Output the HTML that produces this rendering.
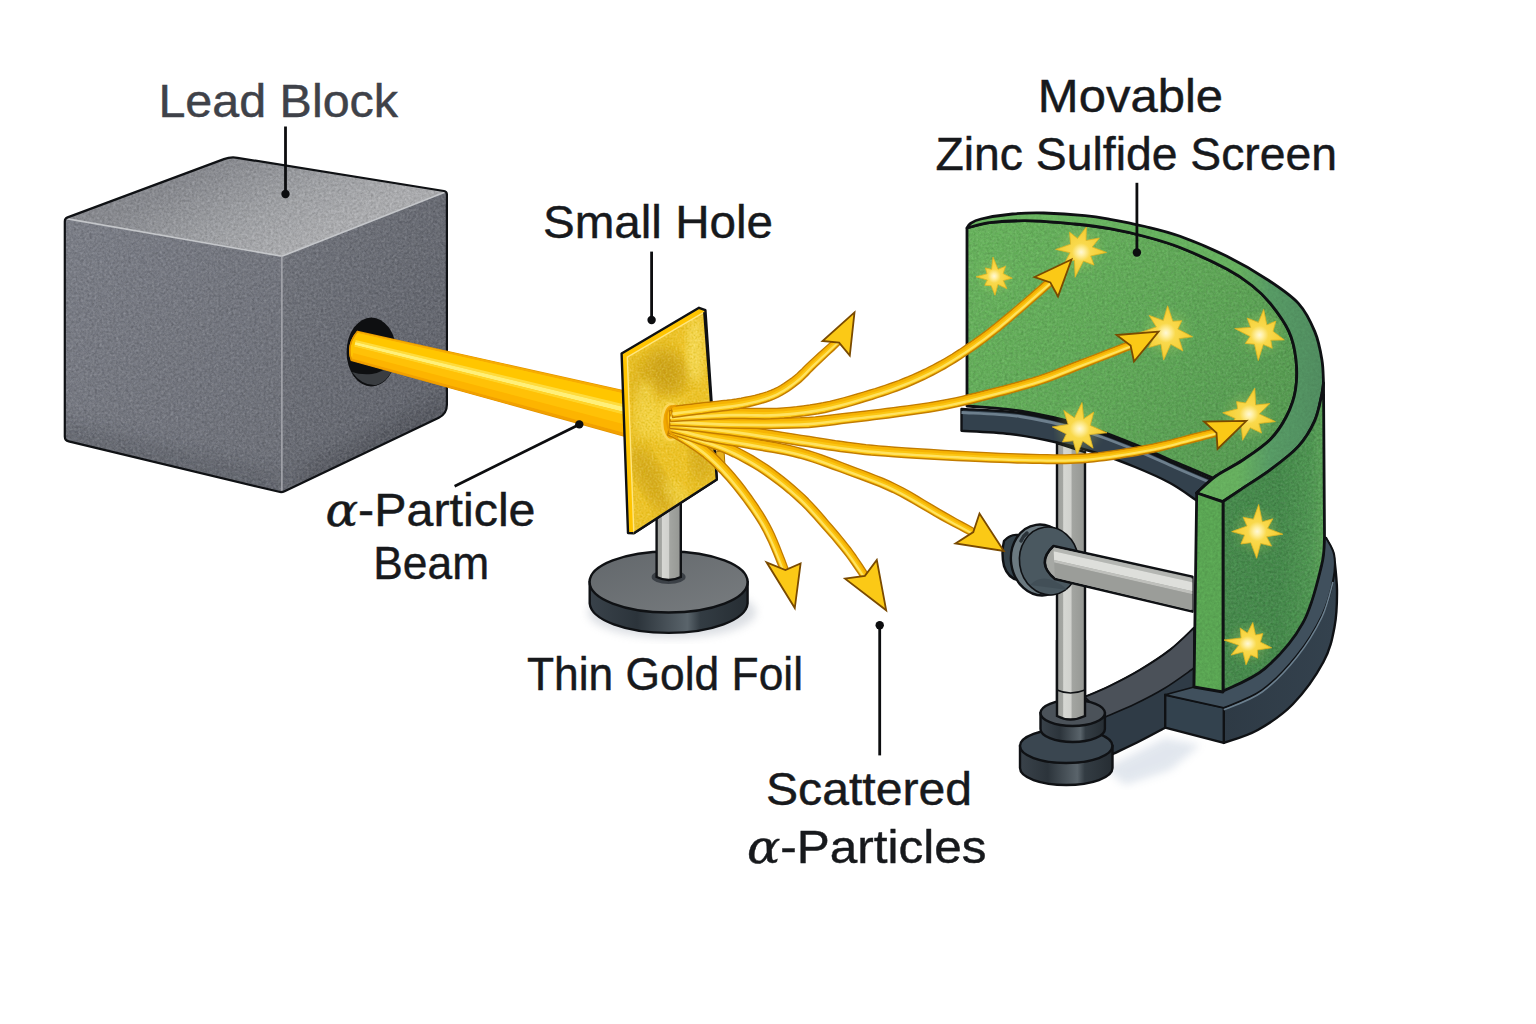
<!DOCTYPE html>
<html lang="en">
<head>
<meta charset="utf-8">
<title>Rutherford Gold Foil Experiment</title>
<style>
html,body{margin:0;padding:0;background:#fff;}
body{width:1536px;height:1024px;overflow:hidden;font-family:"Liberation Sans","DejaVu Sans",sans-serif;}
svg{display:block;}
</style>
</head>
<body>
<svg width="1536" height="1024" viewBox="0 0 1536 1024">
<defs>
<filter id="grain" x="0" y="0" width="100%" height="100%">
  <feTurbulence type="fractalNoise" baseFrequency="0.38" numOctaves="3" seed="7" result="n"/>
  <feColorMatrix in="n" type="matrix" values="0 0 0 0 0  0 0 0 0 0  0 0 0 0 0  0.9 0.9 0.9 0 -0.95" result="a"/>
  <feComposite in="a" in2="SourceGraphic" operator="in"/>
</filter>
<filter id="grainL" x="0" y="0" width="100%" height="100%">
  <feTurbulence type="fractalNoise" baseFrequency="0.42" numOctaves="3" seed="11" result="n"/>
  <feColorMatrix in="n" type="matrix" values="0 0 0 0 1  0 0 0 0 1  0 0 0 0 1  0.9 0.9 0.9 0 -1.0" result="a"/>
  <feComposite in="a" in2="SourceGraphic" operator="in"/>
</filter>
<filter id="grainC" x="0" y="0" width="100%" height="100%">
  <feTurbulence type="fractalNoise" baseFrequency="0.5" numOctaves="2" seed="3" result="n"/>
  <feColorMatrix in="n" type="matrix" values="0 0 0 0 0.62  0 0 0 0 0.42  0 0 0 0 0  1.2 1.2 1.2 0 -1.55" result="a"/>
  <feComposite in="a" in2="SourceGraphic" operator="in"/>
</filter>
<filter id="grainCL" x="0" y="0" width="100%" height="100%">
  <feTurbulence type="fractalNoise" baseFrequency="0.5" numOctaves="2" seed="5" result="n"/>
  <feColorMatrix in="n" type="matrix" values="0 0 0 0 1  0 0 0 0 0.9  0 0 0 0 0.35  1.2 1.2 1.2 0 -1.55" result="a"/>
  <feComposite in="a" in2="SourceGraphic" operator="in"/>
</filter>
<filter id="blur2"><feGaussianBlur stdDeviation="2"/></filter>
<filter id="blur4"><feGaussianBlur stdDeviation="4"/></filter>
<filter id="blur8"><feGaussianBlur stdDeviation="8"/></filter>
<linearGradient id="gTop" gradientUnits="userSpaceOnUse" x1="230" y1="157" x2="282" y2="256">
  <stop offset="0" stop-color="#8b8d93"/><stop offset="0.55" stop-color="#a4a6aa"/><stop offset="1" stop-color="#b2b3b6"/>
</linearGradient>
<linearGradient id="gLeft" x1="0" y1="0" x2="1" y2="1">
  <stop offset="0" stop-color="#7d808a"/><stop offset="1" stop-color="#6d7079"/>
</linearGradient>
<linearGradient id="gRight" x1="0" y1="0" x2="1" y2="1">
  <stop offset="0" stop-color="#73767f"/><stop offset="1" stop-color="#5e616a"/>
</linearGradient>
<linearGradient id="gBeam" gradientUnits="userSpaceOnUse" x1="490" y1="346" x2="482" y2="386">
  <stop offset="0" stop-color="#f7a800"/><stop offset="0.12" stop-color="#ffc400"/>
  <stop offset="0.3" stop-color="#ffd21f"/><stop offset="0.42" stop-color="#ffe75a"/>
  <stop offset="0.55" stop-color="#ffc708"/><stop offset="0.8" stop-color="#ffbd00"/>
  <stop offset="1" stop-color="#f2a100"/>
</linearGradient>
<linearGradient id="gFoil" x1="0" y1="0" x2="1" y2="1">
  <stop offset="0" stop-color="#f2c53a"/><stop offset="0.3" stop-color="#d9a927"/>
  <stop offset="0.55" stop-color="#f0c63e"/><stop offset="0.8" stop-color="#dcae2a"/>
  <stop offset="1" stop-color="#f1c335"/>
</linearGradient>
<linearGradient id="gRod" x1="0" y1="0" x2="1" y2="0">
  <stop offset="0" stop-color="#9c9e9a"/><stop offset="0.2" stop-color="#a4a6a2"/>
  <stop offset="0.24" stop-color="#d6d7d3"/><stop offset="0.5" stop-color="#d0d1cd"/><stop offset="0.54" stop-color="#a3a5a1"/>
  <stop offset="1" stop-color="#959793"/>
</linearGradient>
<linearGradient id="gRodH" gradientUnits="userSpaceOnUse" x1="1120" y1="560" x2="1113" y2="594">
  <stop offset="0" stop-color="#9a9c9b"/><stop offset="0.3" stop-color="#d9dad7"/>
  <stop offset="0.55" stop-color="#b9bab8"/><stop offset="1" stop-color="#8e908f"/>
</linearGradient>
<linearGradient id="gDiscTop" x1="0" y1="0" x2="1" y2="1">
  <stop offset="0" stop-color="#62676b"/><stop offset="1" stop-color="#787c7f"/>
</linearGradient>
<linearGradient id="gDiscSide" x1="0" y1="0" x2="1" y2="0">
  <stop offset="0" stop-color="#39424a"/><stop offset="0.3" stop-color="#2c343b"/>
  <stop offset="0.62" stop-color="#5a646b"/><stop offset="0.7" stop-color="#333c43"/>
  <stop offset="1" stop-color="#262d33"/>
</linearGradient>
<linearGradient id="gGreenIn" gradientUnits="userSpaceOnUse" x1="967" y1="230" x2="1300" y2="470">
  <stop offset="0" stop-color="#6aba5e"/><stop offset="0.5" stop-color="#61ae58"/><stop offset="1" stop-color="#549c50"/>
</linearGradient>
<linearGradient id="gGreenOut" gradientUnits="userSpaceOnUse" x1="1223" y1="0" x2="1326" y2="0">
  <stop offset="0" stop-color="#468f4c"/><stop offset="0.55" stop-color="#458e4b"/><stop offset="0.85" stop-color="#4f9b52"/><stop offset="1" stop-color="#5eab5a"/>
</linearGradient>
<linearGradient id="gRim" gradientUnits="userSpaceOnUse" x1="1000" y1="0" x2="1330" y2="0">
  <stop offset="0" stop-color="#6dbb64"/><stop offset="0.72" stop-color="#6ab562"/><stop offset="0.82" stop-color="#5a9f68"/><stop offset="1" stop-color="#528f62"/>
</linearGradient>
<linearGradient id="gSlate" x1="0" y1="0" x2="1" y2="0">
  <stop offset="0" stop-color="#2e3a45"/><stop offset="1" stop-color="#34424e"/>
</linearGradient>
<radialGradient id="gStar">
  <stop offset="0" stop-color="#fff8d6"/><stop offset="0.14" stop-color="#fff0a4"/>
  <stop offset="0.36" stop-color="#f9d94c"/><stop offset="1" stop-color="#f4cb2e"/>
</radialGradient>
</defs>
<rect width="1536" height="1024" fill="#ffffff"/>
<clipPath id="cCube"><path d="M64.8 221.4 Q64.8 218.4 67.6 217.4 L223.9 159.1 Q230.5 156.7 237.4 157.8 L443.9 191.0 Q446.9 191.5 446.9 194.5 L446.9 404.8 Q446.9 413.8 438.8 417.7 L284.6 491.2 Q281.9 492.5 279.0 491.8 L68.7 441.4 Q64.8 440.5 64.8 436.5 Z"/></clipPath>
<g stroke-linejoin="round">
<g clip-path="url(#cCube)">
<path d="M64.8 218.4 L230.5 156.7 L446.9 191.5 L281.9 256.3 Z" fill="url(#gTop)"/>
<path d="M64.8 218.4 L281.9 256.3 L281.9 492.5 L64.8 440.5 Z" fill="url(#gLeft)"/>
<path d="M281.9 256.3 L446.9 191.5 L446.9 413.8 L281.9 492.5 Z" fill="url(#gRight)"/>
<path d="M300.0 470.0 L447.0 395.0 L447.0 425.0 L300.0 500.0 Z" fill="#3c3f46" opacity="0.35" filter="url(#blur8)"/>
<path d="M60.0 420.0 L282.0 475.0 L282.0 500.0 L60.0 450.0 Z" fill="#4a4d55" opacity="0.3" filter="url(#blur8)"/>
<path d="M64.8 218.4 L230.5 156.7 L446.9 191.5 L446.9 413.8 L281.9 492.5 L64.8 440.5 Z" fill="#000" opacity="0.18" filter="url(#grain)"/>
<path d="M64.8 218.4 L230.5 156.7 L446.9 191.5 L446.9 413.8 L281.9 492.5 L64.8 440.5 Z" fill="#fff" opacity="0.16" filter="url(#grainL)"/>
<path d="M64.8 218.4 L281.9 256.3 L446.9 191.5" fill="none" stroke="#c9cbce" stroke-width="1.6" opacity="0.9"/>
<path d="M281.9 256.3 L281.9 492.5" fill="none" stroke="#a9abb0" stroke-width="1.6" opacity="0.9"/>
</g>
<path d="M64.8 221.4 Q64.8 218.4 67.6 217.4 L223.9 159.1 Q230.5 156.7 237.4 157.8 L443.9 191.0 Q446.9 191.5 446.9 194.5 L446.9 404.8 Q446.9 413.8 438.8 417.7 L284.6 491.2 Q281.9 492.5 279.0 491.8 L68.7 441.4 Q64.8 440.5 64.8 436.5 Z" fill="none" stroke="#0f1114" stroke-width="2.2"/>
</g>
<ellipse cx="371.4" cy="352" rx="24.8" ry="34.5" fill="#0e0f11"/>
<path d="M352 372 Q362 386 376 385 Q390 381 395 362 Q384 372 372 374 Q360 375 352 372Z" fill="#3a3d41"/>
<path d="M357.5 331.4 L626 391.2 L626 436.5 L351.5 360.5 Q346 345 357.5 331.4Z" fill="#ffc400" stroke="#e39500" stroke-width="1.4"/>
<path d="M357.5 331.4 L626.0 391.2 L626.0 393.9 L357.1 333.1 Z" fill="#f7ad00"/>
<path d="M357.1 333.1 L626.0 393.9 L626.0 404.8 L355.7 340.1 Z" fill="#ffc600"/>
<path d="M355.7 340.1 L626.0 404.8 L626.0 407.5 L355.3 341.9 Z" fill="#ffdc3c"/>
<path d="M355.3 341.9 L626.0 407.5 L626.0 412.5 L354.7 345.1 Z" fill="#fff07a"/>
<path d="M354.7 345.1 L626.0 412.5 L626.0 415.2 L354.3 346.8 Z" fill="#ffd42a"/>
<path d="M354.3 346.8 L626.0 415.2 L626.0 424.7 L353.1 352.9 Z" fill="#ffc107"/>
<path d="M353.1 352.9 L626.0 424.7 L626.0 433.3 L351.9 358.5 Z" fill="#fdb400"/>
<path d="M351.9 358.5 L626.0 433.3 L626.0 436.5 L351.5 360.5 Z" fill="#f2a000"/>
<path d="M357.5 331.4 Q346 345 351.5 360.5" fill="none" stroke="#e39500" stroke-width="1.4"/>
<ellipse cx="672" cy="612" rx="84" ry="26" fill="#9aa3b0" opacity="0.35" filter="url(#blur4)"/>
<path d="M589.7 582 L589.7 603.5 A79 30.5 0 0 0 747.6 603.5 L747.6 582 Z" fill="url(#gDiscSide)" stroke="#0f1114" stroke-width="2.4"/>
<ellipse cx="668.6" cy="582" rx="79" ry="30.5" fill="url(#gDiscTop)" stroke="#0f1114" stroke-width="2.4"/>
<ellipse cx="668.6" cy="577" rx="17" ry="7" fill="#3b4046"/>
<path d="M656.6 500 L656.6 577 Q668.6 583 680.8 577 L680.8 500 Z" fill="url(#gRod)" stroke="#0f1114" stroke-width="2.4"/>
<path d="M715 452 L724 450.5 L725 466 L716.5 469 Z" fill="#e9b21c" stroke="#a87400" stroke-width="1"/>
<path d="M621.6 353.5 L699.0 307.8 L705.4 310.2 L716.8 479.5 L633.8 533.2 L628.0 533.0 Z" fill="#ffc400" stroke="#0f1114" stroke-width="2.4" stroke-linejoin="round"/>
<path d="M627.3 357.2 L704.3 312.2 L716.8 479.5 L633.8 533.2 Z" fill="#eec126"/>
<clipPath id="cFoil"><path d="M627.3 357.2 L704.3 312.2 L716.8 479.5 L633.8 533.2 Z"/></clipPath>
<g clip-path="url(#cFoil)">
<ellipse cx="666" cy="372" rx="20" ry="24" fill="#b98c0c" opacity="0.7" filter="url(#blur8)" transform="rotate(-30 666 372)"/>
<ellipse cx="652" cy="480" rx="13" ry="40" fill="#b98c0c" opacity="0.55" filter="url(#blur8)" transform="rotate(-30 652 480)"/>
<ellipse cx="702" cy="455" rx="12" ry="30" fill="#b98c0c" opacity="0.5" filter="url(#blur8)"/>
<ellipse cx="640" cy="380" rx="8" ry="20" fill="#b98c0c" opacity="0.4" filter="url(#blur8)"/>
<ellipse cx="695" cy="350" rx="9" ry="34" fill="#fbe36a" opacity="0.7" filter="url(#blur4)"/>
<ellipse cx="645" cy="410" rx="10" ry="30" fill="#f8dc58" opacity="0.6" filter="url(#blur4)"/>
<ellipse cx="680" cy="500" rx="10" ry="26" fill="#f8dc58" opacity="0.5" filter="url(#blur4)" transform="rotate(-35 680 500)"/>
<circle cx="669" cy="421" r="22" fill="#fbdc50" opacity="0.6" filter="url(#blur4)"/>
</g>
<path d="M627.3 357.2 L704.3 312.2 L716.8 479.5 L633.8 533.2 Z" fill="#b07c00" opacity="0.55" filter="url(#grainC)"/>
<path d="M627.3 357.2 L704.3 312.2 L716.8 479.5 L633.8 533.2 Z" fill="#ffe870" opacity="0.32" filter="url(#grainCL)"/>
<path d="M633.8 533.2 L627.3 357.2 L704.3 312.2" fill="none" stroke="#ffe680" stroke-width="1.4"/>
<path d="M704.3 312.2 L716.8 479.5 L633.8 533.2" fill="none" stroke="#0f1114" stroke-width="2.4" stroke-linejoin="round"/>
<ellipse cx="671" cy="422" rx="9" ry="18" fill="#f2a900" stroke="#fbd85a" stroke-width="2.5"/>
<path d="M668 421 Q666 408 676 405.5 Q700 405 724 409 L742 437 Q700 440 676 438.5 Q668 434 668 421Z" fill="#ffbd08"/>
<path d="M961.5 409.0 C971.2 409.7 999.9 410.0 1020.0 413.0 C1040.1 416.0 1062.8 421.4 1082.0 427.0 C1101.2 432.6 1119.5 440.3 1135.0 446.5 C1150.5 452.7 1161.7 458.2 1175.0 464.0 C1188.3 469.8 1208.3 478.2 1215.0 481.0 L1196.0 500.0 C1191.7 497.2 1180.2 488.5 1170.0 483.0 C1159.8 477.5 1146.7 471.8 1135.0 467.0 C1123.3 462.2 1113.0 458.1 1100.0 454.0 C1087.0 449.9 1072.0 445.8 1057.0 442.5 C1042.0 439.2 1025.9 435.9 1010.0 434.0 C994.1 432.1 969.6 431.3 961.5 430.8 Z" fill="#33414d" stroke="#0f1114" stroke-width="2.4" stroke-linejoin="round"/>
<path d="M961.5 409.0 C971.2 409.7 999.9 410.0 1020.0 413.0 C1040.1 416.0 1062.8 421.4 1082.0 427.0 C1101.2 432.6 1119.5 440.3 1135.0 446.5 C1150.5 452.7 1161.7 458.2 1175.0 464.0 C1188.3 469.8 1208.3 478.2 1215.0 481.0" fill="none" stroke="#6d7f8d" stroke-width="2.8" transform="translate(0,3.5)"/>
<path d="M1057 443 L1057 716 Q1070 723 1085 716 L1085 452 Z" fill="url(#gRod)" stroke="#0f1114" stroke-width="2.4"/>
<path d="M1057 690 Q1070 696 1085 690" fill="none" stroke="#0f1114" stroke-width="1.5"/>
<path d="M967.0 228.0 C971.1 227.1 980.7 223.6 991.7 222.4 C1002.7 221.2 1019.1 220.5 1033.0 220.8 C1046.9 221.1 1062.2 222.7 1075.0 224.0 C1087.8 225.3 1098.3 226.5 1110.0 228.6 C1121.7 230.7 1133.3 233.3 1145.0 236.5 C1156.7 239.7 1166.3 242.1 1180.0 247.5 C1193.7 252.9 1214.9 262.7 1226.9 269.0 C1238.9 275.3 1244.8 279.8 1252.0 285.5 C1259.2 291.2 1264.1 295.7 1270.3 303.4 C1276.5 311.1 1284.7 322.2 1289.0 331.6 C1293.3 341.0 1294.9 350.0 1296.0 359.7 C1297.1 369.4 1297.0 380.6 1295.5 390.0 C1294.0 399.4 1290.9 407.8 1286.7 416.0 C1282.5 424.2 1277.7 432.0 1270.3 439.4 C1262.9 446.8 1251.2 454.4 1242.2 460.5 C1233.2 466.6 1223.6 470.6 1216.0 476.0 C1208.4 481.4 1199.9 490.2 1196.7 493.0 L1213.0 478.0 C1206.7 475.3 1188.0 467.6 1175.0 462.0 C1162.0 456.4 1150.5 450.7 1135.0 444.5 C1119.5 438.3 1101.2 430.6 1082.0 425.0 C1062.8 419.4 1039.2 414.2 1020.0 411.0 C1000.8 407.8 975.8 406.8 967.0 406.0 Z" fill="url(#gGreenIn)"/>
<path d="M967.0 228.0 C971.1 227.1 980.7 223.6 991.7 222.4 C1002.7 221.2 1019.1 220.5 1033.0 220.8 C1046.9 221.1 1062.2 222.7 1075.0 224.0 C1087.8 225.3 1098.3 226.5 1110.0 228.6 C1121.7 230.7 1133.3 233.3 1145.0 236.5 C1156.7 239.7 1166.3 242.1 1180.0 247.5 C1193.7 252.9 1214.9 262.7 1226.9 269.0 C1238.9 275.3 1244.8 279.8 1252.0 285.5 C1259.2 291.2 1264.1 295.7 1270.3 303.4 C1276.5 311.1 1284.7 322.2 1289.0 331.6 C1293.3 341.0 1294.9 350.0 1296.0 359.7 C1297.1 369.4 1297.0 380.6 1295.5 390.0 C1294.0 399.4 1290.9 407.8 1286.7 416.0 C1282.5 424.2 1277.7 432.0 1270.3 439.4 C1262.9 446.8 1251.2 454.4 1242.2 460.5 C1233.2 466.6 1223.6 470.6 1216.0 476.0 C1208.4 481.4 1199.9 490.2 1196.7 493.0 L1213.0 478.0 C1206.7 475.3 1188.0 467.6 1175.0 462.0 C1162.0 456.4 1150.5 450.7 1135.0 444.5 C1119.5 438.3 1101.2 430.6 1082.0 425.0 C1062.8 419.4 1039.2 414.2 1020.0 411.0 C1000.8 407.8 975.8 406.8 967.0 406.0 Z" fill="#0d3a12" opacity="0.16" filter="url(#grain)"/>
<path d="M967.0 228.0 C971.1 227.1 980.7 223.6 991.7 222.4 C1002.7 221.2 1019.1 220.5 1033.0 220.8 C1046.9 221.1 1062.2 222.7 1075.0 224.0 C1087.8 225.3 1098.3 226.5 1110.0 228.6 C1121.7 230.7 1133.3 233.3 1145.0 236.5 C1156.7 239.7 1166.3 242.1 1180.0 247.5 C1193.7 252.9 1214.9 262.7 1226.9 269.0 C1238.9 275.3 1244.8 279.8 1252.0 285.5 C1259.2 291.2 1264.1 295.7 1270.3 303.4 C1276.5 311.1 1284.7 322.2 1289.0 331.6 C1293.3 341.0 1294.9 350.0 1296.0 359.7 C1297.1 369.4 1297.0 380.6 1295.5 390.0 C1294.0 399.4 1290.9 407.8 1286.7 416.0 C1282.5 424.2 1277.7 432.0 1270.3 439.4 C1262.9 446.8 1251.2 454.4 1242.2 460.5 C1233.2 466.6 1223.6 470.6 1216.0 476.0 C1208.4 481.4 1199.9 490.2 1196.7 493.0 L1213.0 478.0 C1206.7 475.3 1188.0 467.6 1175.0 462.0 C1162.0 456.4 1150.5 450.7 1135.0 444.5 C1119.5 438.3 1101.2 430.6 1082.0 425.0 C1062.8 419.4 1039.2 414.2 1020.0 411.0 C1000.8 407.8 975.8 406.8 967.0 406.0 Z" fill="#b9e6a0" opacity="0.10" filter="url(#grainL)"/>
<path d="M967.0 228.0 C971.1 227.1 980.7 223.6 991.7 222.4 C1002.7 221.2 1019.1 220.5 1033.0 220.8 C1046.9 221.1 1062.2 222.7 1075.0 224.0 C1087.8 225.3 1098.3 226.5 1110.0 228.6 C1121.7 230.7 1133.3 233.3 1145.0 236.5 C1156.7 239.7 1166.3 242.1 1180.0 247.5 C1193.7 252.9 1214.9 262.7 1226.9 269.0 C1238.9 275.3 1244.8 279.8 1252.0 285.5 C1259.2 291.2 1264.1 295.7 1270.3 303.4 C1276.5 311.1 1284.7 322.2 1289.0 331.6 C1293.3 341.0 1294.9 350.0 1296.0 359.7 C1297.1 369.4 1297.0 380.6 1295.5 390.0 C1294.0 399.4 1290.9 407.8 1286.7 416.0 C1282.5 424.2 1277.7 432.0 1270.3 439.4 C1262.9 446.8 1251.2 454.4 1242.2 460.5 C1233.2 466.6 1223.6 470.6 1216.0 476.0 C1208.4 481.4 1199.9 490.2 1196.7 493.0 L1213.0 478.0 C1206.7 475.3 1188.0 467.6 1175.0 462.0 C1162.0 456.4 1150.5 450.7 1135.0 444.5 C1119.5 438.3 1101.2 430.6 1082.0 425.0 C1062.8 419.4 1039.2 414.2 1020.0 411.0 C1000.8 407.8 975.8 406.8 967.0 406.0 Z" fill="none" stroke="#0f1114" stroke-width="2.8" stroke-linejoin="round"/>
<path d="M967.0 228.0 C967.6 227.2 968.2 225.0 970.5 223.5 C972.8 222.0 974.0 220.6 981.0 219.0 C988.0 217.4 1002.0 215.0 1012.5 214.0 C1023.0 213.0 1031.7 212.7 1043.8 213.0 C1055.9 213.3 1074.0 214.5 1085.0 215.6 C1096.0 216.7 1100.0 217.5 1110.0 219.3 C1120.0 221.1 1133.3 223.7 1145.0 226.5 C1156.7 229.3 1166.3 231.3 1180.0 236.3 C1193.7 241.3 1212.2 249.0 1226.9 256.3 C1241.6 263.6 1256.1 272.1 1268.0 280.0 C1279.9 287.9 1290.6 294.8 1298.4 303.4 C1306.2 312.0 1310.9 322.2 1314.8 331.6 C1318.7 341.0 1320.5 351.1 1321.9 359.7 C1323.4 368.3 1323.2 379.1 1323.5 383.0 L1321.9 394.0 C1320.7 398.4 1318.7 411.9 1314.8 420.6 C1310.9 429.3 1305.8 438.2 1298.4 446.4 C1291.0 454.6 1279.7 462.8 1270.3 469.8 C1260.9 476.8 1250.1 483.3 1242.2 488.6 C1234.3 493.9 1226.2 499.4 1223.0 501.5 L1196.7 493.0 C1199.9 490.2 1208.4 481.4 1216.0 476.0 C1223.6 470.6 1233.2 466.6 1242.2 460.5 C1251.2 454.4 1262.9 446.8 1270.3 439.4 C1277.7 432.0 1282.5 424.2 1286.7 416.0 C1290.9 407.8 1294.0 399.4 1295.5 390.0 C1297.0 380.6 1297.1 369.4 1296.0 359.7 C1294.9 350.0 1293.3 341.0 1289.0 331.6 C1284.7 322.2 1276.5 311.1 1270.3 303.4 C1264.1 295.7 1259.2 291.2 1252.0 285.5 C1244.8 279.8 1238.9 275.3 1226.9 269.0 C1214.9 262.7 1193.7 252.9 1180.0 247.5 C1166.3 242.1 1156.7 239.7 1145.0 236.5 C1133.3 233.3 1121.7 230.7 1110.0 228.6 C1098.3 226.5 1087.8 225.3 1075.0 224.0 C1062.2 222.7 1046.9 221.1 1033.0 220.8 C1019.1 220.5 1002.7 221.2 991.7 222.4 C980.7 223.6 971.1 227.1 967.0 228.0 Z" fill="url(#gRim)" stroke="#0f1114" stroke-width="2.8" stroke-linejoin="round"/>
<path d="M967.0 228.0 C967.6 227.2 968.2 225.0 970.5 223.5 C972.8 222.0 974.0 220.6 981.0 219.0 C988.0 217.4 1002.0 215.0 1012.5 214.0 C1023.0 213.0 1031.7 212.7 1043.8 213.0 C1055.9 213.3 1074.0 214.5 1085.0 215.6 C1096.0 216.7 1100.0 217.5 1110.0 219.3 C1120.0 221.1 1133.3 223.7 1145.0 226.5 C1156.7 229.3 1166.3 231.3 1180.0 236.3 C1193.7 241.3 1212.2 249.0 1226.9 256.3 C1241.6 263.6 1256.1 272.1 1268.0 280.0 C1279.9 287.9 1290.6 294.8 1298.4 303.4 C1306.2 312.0 1310.9 322.2 1314.8 331.6 C1318.7 341.0 1320.5 351.1 1321.9 359.7 C1323.4 368.3 1323.2 379.1 1323.5 383.0 L1321.9 394.0 C1320.7 398.4 1318.7 411.9 1314.8 420.6 C1310.9 429.3 1305.8 438.2 1298.4 446.4 C1291.0 454.6 1279.7 462.8 1270.3 469.8 C1260.9 476.8 1250.1 483.3 1242.2 488.6 C1234.3 493.9 1226.2 499.4 1223.0 501.5 L1196.7 493.0 C1199.9 490.2 1208.4 481.4 1216.0 476.0 C1223.6 470.6 1233.2 466.6 1242.2 460.5 C1251.2 454.4 1262.9 446.8 1270.3 439.4 C1277.7 432.0 1282.5 424.2 1286.7 416.0 C1290.9 407.8 1294.0 399.4 1295.5 390.0 C1297.0 380.6 1297.1 369.4 1296.0 359.7 C1294.9 350.0 1293.3 341.0 1289.0 331.6 C1284.7 322.2 1276.5 311.1 1270.3 303.4 C1264.1 295.7 1259.2 291.2 1252.0 285.5 C1244.8 279.8 1238.9 275.3 1226.9 269.0 C1214.9 262.7 1193.7 252.9 1180.0 247.5 C1166.3 242.1 1156.7 239.7 1145.0 236.5 C1133.3 233.3 1121.7 230.7 1110.0 228.6 C1098.3 226.5 1087.8 225.3 1075.0 224.0 C1062.2 222.7 1046.9 221.1 1033.0 220.8 C1019.1 220.5 1002.7 221.2 991.7 222.4 C980.7 223.6 971.1 227.1 967.0 228.0 Z" fill="#0d3a12" opacity="0.08" filter="url(#grain)"/>
<g><circle cx="994.8" cy="277.0" r="14.2" fill="#d9e86a" opacity="0.18" filter="url(#blur4)"/><path d="M993.0 257.0 L998.0 269.3 L1005.6 266.2 L1003.1 273.6 L1012.3 278.2 L1003.3 280.5 L1006.9 288.7 L997.9 284.4 L995.0 295.3 L991.2 285.7 L984.7 285.3 L987.4 280.1 L976.0 276.8 L987.1 273.8 L985.4 267.9 L991.6 269.3 Z" fill="url(#gStar)" stroke="#e0b422" stroke-width="0.8" stroke-linejoin="round"/></g>
<g><circle cx="1080.5" cy="250.0" r="19.1" fill="#d9e86a" opacity="0.18" filter="url(#blur4)"/><path d="M1086.4 227.0 L1086.0 240.6 L1099.4 238.0 L1092.2 247.0 L1106.6 252.4 L1090.7 256.0 L1094.0 265.1 L1083.4 261.1 L1075.1 277.3 L1074.5 260.2 L1065.3 261.8 L1070.1 252.7 L1055.6 249.4 L1070.6 244.2 L1069.5 232.1 L1077.5 238.5 Z" fill="url(#gStar)" stroke="#e0b422" stroke-width="0.8" stroke-linejoin="round"/></g>
<g><circle cx="1167.0" cy="332.4" r="20.2" fill="#d9e86a" opacity="0.18" filter="url(#blur4)"/><path d="M1167.6 305.8 L1172.8 321.2 L1181.8 320.7 L1177.8 329.0 L1192.6 336.8 L1179.0 338.6 L1182.9 351.0 L1170.7 344.2 L1163.6 360.1 L1160.9 344.1 L1148.7 347.6 L1154.8 336.2 L1139.3 332.9 L1156.4 326.9 L1149.1 315.4 L1163.3 320.6 Z" fill="url(#gStar)" stroke="#e0b422" stroke-width="0.8" stroke-linejoin="round"/></g>
<g><circle cx="1261.0" cy="334.0" r="18.8" fill="#d9e86a" opacity="0.18" filter="url(#blur4)"/><path d="M1263.7 309.4 L1266.8 324.9 L1275.9 321.1 L1273.0 331.3 L1284.3 339.9 L1270.8 340.2 L1272.2 348.3 L1263.3 344.5 L1258.2 360.6 L1254.5 344.2 L1245.3 343.4 L1250.1 336.4 L1234.7 328.5 L1250.7 327.4 L1247.2 318.0 L1258.4 322.4 Z" fill="url(#gStar)" stroke="#e0b422" stroke-width="0.8" stroke-linejoin="round"/></g>
<g><circle cx="1248.0" cy="416.0" r="20.2" fill="#d9e86a" opacity="0.18" filter="url(#blur4)"/><path d="M1254.8 388.1 L1255.6 405.0 L1269.8 403.6 L1259.2 413.9 L1275.4 421.6 L1258.9 423.5 L1261.5 433.1 L1250.2 427.7 L1242.6 440.3 L1241.3 425.7 L1227.8 430.7 L1235.2 418.4 L1222.7 412.8 L1237.6 408.8 L1236.6 401.6 L1245.6 403.0 Z" fill="url(#gStar)" stroke="#e0b422" stroke-width="0.8" stroke-linejoin="round"/></g>
<g><circle cx="1078.6" cy="429.5" r="20.2" fill="#d9e86a" opacity="0.18" filter="url(#blur4)"/><path d="M1082.0 402.5 L1083.7 418.8 L1093.8 412.0 L1090.2 425.4 L1107.0 432.8 L1089.4 434.6 L1093.1 448.2 L1082.7 441.0 L1077.0 455.2 L1073.2 440.8 L1062.5 441.9 L1066.3 433.9 L1052.3 426.9 L1068.2 424.5 L1063.8 410.4 L1074.5 417.9 Z" fill="url(#gStar)" stroke="#e0b422" stroke-width="0.8" stroke-linejoin="round"/></g>
<path d="M1105 768 L1165 738 L1200 745 L1170 770 L1125 785 Z" fill="#9fb0c8" opacity="0.3" filter="url(#blur4)"/>
<path d="M1194.0 628.0 C1190.0 631.7 1179.0 643.0 1170.0 650.0 C1161.0 657.0 1150.0 664.0 1140.0 670.0 C1130.0 676.0 1119.2 681.5 1110.0 686.0 C1100.8 690.5 1089.2 695.2 1085.0 697.0 L1085 730 L1113.0 754.0 C1117.5 751.8 1131.3 745.4 1140.0 741.0 C1148.7 736.6 1161.0 729.9 1165.2 727.7 L1194 690 Z" fill="#2f3b46" stroke="#0f1114" stroke-width="2.4" stroke-linejoin="round"/>
<path d="M1194.0 628.0 C1190.0 631.7 1179.0 643.0 1170.0 650.0 C1161.0 657.0 1150.0 664.0 1140.0 670.0 C1130.0 676.0 1119.2 681.5 1110.0 686.0 C1100.8 690.5 1089.2 695.2 1085.0 697.0 L1105.0 717.0 C1110.0 714.8 1125.0 708.8 1135.0 704.0 C1145.0 699.2 1155.2 694.0 1165.0 688.0 C1174.8 682.0 1189.2 671.3 1194.0 668.0 Z" fill="#4b5159" stroke="#0f1114" stroke-width="1.6" stroke-linejoin="round"/>
<path d="M1020 746 L1020 768 A46.2 17 0 0 0 1112.5 768 L1112.5 746 Z" fill="url(#gDiscSide)" stroke="#0f1114" stroke-width="2.4"/>
<ellipse cx="1066.2" cy="746" rx="46.2" ry="17" fill="#3a4650" stroke="#0f1114" stroke-width="2.4"/>
<path d="M1040.5 713 L1040.5 729 A32.2 13 0 0 0 1104.9 729 L1104.9 713 Z" fill="url(#gDiscSide)" stroke="#0f1114" stroke-width="2.4"/>
<ellipse cx="1072.7" cy="713" rx="32.2" ry="13" fill="#4b5259" stroke="#0f1114" stroke-width="2.4"/>
<path d="M1057 640 L1057 716 Q1070 723 1085 716 L1085 640 Z" fill="url(#gRod)"/>
<path d="M1057 640 L1057 716 Q1070 723 1085 716 L1085 640" fill="none" stroke="#0f1114" stroke-width="2.4"/>
<path d="M1057 690 Q1070 696 1085 690" fill="none" stroke="#0f1114" stroke-width="1.5"/>
<path d="M1223.8 707.7 C1230.2 704.8 1249.8 698.8 1262.0 690.0 C1274.2 681.2 1287.0 667.5 1297.0 655.0 C1307.0 642.5 1316.0 627.5 1322.0 615.0 C1328.0 602.5 1331.0 590.0 1333.0 580.0 C1335.0 570.0 1335.2 562.0 1334.0 555.0 C1332.8 548.0 1327.3 540.8 1326.0 538.0 L1334.0 555.0 C1334.5 560.8 1336.9 578.0 1337.0 590.0 C1337.1 602.0 1336.8 615.0 1334.5 627.0 C1332.2 639.0 1330.3 649.2 1323.4 662.0 C1316.5 674.8 1303.9 692.7 1293.0 704.0 C1282.1 715.3 1269.3 723.5 1257.8 730.0 C1246.3 736.5 1229.5 740.8 1223.8 742.9 Z" fill="url(#gSlate)" stroke="#0f1114" stroke-width="2.4" stroke-linejoin="round"/>
<path d="M1165.2 694.8 L1223.8 707.7 L1223.8 742.9 L1165.2 727.7 Z" fill="#33424e" stroke="#0f1114" stroke-width="2.4" stroke-linejoin="round"/>
<path d="M1165.2 694.8 L1194 687 L1223 692 L1223.0 691.0 C1230.0 687.3 1251.5 680.0 1264.8 668.6 C1278.1 657.2 1293.5 640.0 1302.9 622.9 C1312.4 605.8 1317.9 580.0 1321.5 565.7 C1325.1 551.4 1324.0 541.8 1324.5 537.0 L1326.0 538.0 C1327.3 540.8 1332.8 548.0 1334.0 555.0 C1335.2 562.0 1335.0 570.0 1333.0 580.0 C1331.0 590.0 1328.0 602.5 1322.0 615.0 C1316.0 627.5 1307.0 642.5 1297.0 655.0 C1287.0 667.5 1274.2 681.2 1262.0 690.0 C1249.8 698.8 1230.2 704.8 1223.8 707.7 Z" fill="#40505d" stroke="#0f1114" stroke-width="1.6" stroke-linejoin="round"/>
<path d="M1223.8 707.7 C1230.2 704.8 1249.8 698.8 1262.0 690.0 C1274.2 681.2 1287.0 667.5 1297.0 655.0 C1307.0 642.5 1316.0 627.5 1322.0 615.0 C1328.0 602.5 1331.2 585.8 1333.0 580.0" fill="none" stroke="#6b7f8e" stroke-width="1.6" transform="translate(0,2)"/>
<path d="M1223 501.5 L1223.0 501.5 C1226.2 499.4 1234.3 493.9 1242.2 488.6 C1250.1 483.3 1260.9 476.8 1270.3 469.8 C1279.7 462.8 1291.0 454.6 1298.4 446.4 C1305.8 438.2 1310.9 429.3 1314.8 420.6 C1318.7 411.9 1320.5 400.3 1321.9 394.0 C1323.4 387.7 1323.2 384.8 1323.5 383.0 L1324.5 537 L1324.5 537.0 C1324.0 541.8 1325.1 551.4 1321.5 565.7 C1317.9 580.0 1312.4 605.8 1302.9 622.9 C1293.5 640.0 1278.1 657.2 1264.8 668.6 C1251.5 680.0 1230.0 687.3 1223.0 691.0 Z" fill="url(#gGreenOut)"/>
<path d="M1223 501.5 L1223.0 501.5 C1226.2 499.4 1234.3 493.9 1242.2 488.6 C1250.1 483.3 1260.9 476.8 1270.3 469.8 C1279.7 462.8 1291.0 454.6 1298.4 446.4 C1305.8 438.2 1310.9 429.3 1314.8 420.6 C1318.7 411.9 1320.5 400.3 1321.9 394.0 C1323.4 387.7 1323.2 384.8 1323.5 383.0 L1324.5 537 L1324.5 537.0 C1324.0 541.8 1325.1 551.4 1321.5 565.7 C1317.9 580.0 1312.4 605.8 1302.9 622.9 C1293.5 640.0 1278.1 657.2 1264.8 668.6 C1251.5 680.0 1230.0 687.3 1223.0 691.0 Z" fill="#0d3a12" opacity="0.18" filter="url(#grain)"/>
<path d="M1223 501.5 L1223.0 501.5 C1226.2 499.4 1234.3 493.9 1242.2 488.6 C1250.1 483.3 1260.9 476.8 1270.3 469.8 C1279.7 462.8 1291.0 454.6 1298.4 446.4 C1305.8 438.2 1310.9 429.3 1314.8 420.6 C1318.7 411.9 1320.5 400.3 1321.9 394.0 C1323.4 387.7 1323.2 384.8 1323.5 383.0 L1324.5 537 L1324.5 537.0 C1324.0 541.8 1325.1 551.4 1321.5 565.7 C1317.9 580.0 1312.4 605.8 1302.9 622.9 C1293.5 640.0 1278.1 657.2 1264.8 668.6 C1251.5 680.0 1230.0 687.3 1223.0 691.0 Z" fill="#b9e6a0" opacity="0.10" filter="url(#grainL)"/>
<path d="M1223 501.5 L1223.0 501.5 C1226.2 499.4 1234.3 493.9 1242.2 488.6 C1250.1 483.3 1260.9 476.8 1270.3 469.8 C1279.7 462.8 1291.0 454.6 1298.4 446.4 C1305.8 438.2 1310.9 429.3 1314.8 420.6 C1318.7 411.9 1320.5 400.3 1321.9 394.0 C1323.4 387.7 1323.2 384.8 1323.5 383.0 L1324.5 537 L1324.5 537.0 C1324.0 541.8 1325.1 551.4 1321.5 565.7 C1317.9 580.0 1312.4 605.8 1302.9 622.9 C1293.5 640.0 1278.1 657.2 1264.8 668.6 C1251.5 680.0 1230.0 687.3 1223.0 691.0 Z" fill="none" stroke="#0f1114" stroke-width="2.8" stroke-linejoin="round"/>
<path d="M1196.7 493.0 L1223.0 502.0 L1223.0 692.0 L1194.0 687.0 Z" fill="#5fae58"/>
<path d="M1196.7 493.0 L1223.0 502.0 L1223.0 692.0 L1194.0 687.0 Z" fill="#0d3a12" opacity="0.12" filter="url(#grain)"/>
<path d="M1196.7 493.0 L1223.0 502.0 L1223.0 692.0 L1194.0 687.0 Z" fill="none" stroke="#0f1114" stroke-width="2.8" stroke-linejoin="round"/>
<g><circle cx="1257.0" cy="531.4" r="19.5" fill="#d9e86a" opacity="0.18" filter="url(#blur4)"/><path d="M1258.7 504.5 L1262.3 521.7 L1272.8 518.8 L1267.6 528.3 L1282.8 534.2 L1266.7 536.7 L1271.5 546.1 L1260.6 543.5 L1256.7 558.3 L1250.8 542.7 L1240.9 544.0 L1244.6 535.1 L1231.7 531.6 L1247.1 526.0 L1243.1 517.2 L1253.4 519.3 Z" fill="url(#gStar)" stroke="#e0b422" stroke-width="0.8" stroke-linejoin="round"/></g>
<g><circle cx="1249.0" cy="643.8" r="17.2" fill="#d9e86a" opacity="0.18" filter="url(#blur4)"/><path d="M1252.8 622.5 L1255.5 635.0 L1262.8 633.5 L1260.4 642.1 L1271.7 647.8 L1257.4 650.0 L1257.7 658.2 L1250.7 654.9 L1246.0 664.8 L1243.0 652.0 L1231.0 655.1 L1238.8 645.3 L1224.0 640.0 L1241.1 638.0 L1240.2 628.1 L1247.4 633.0 Z" fill="url(#gStar)" stroke="#e0b422" stroke-width="0.8" stroke-linejoin="round"/></g>
<path d="M1004 541 Q1010 534 1018 535 L1018 580 Q1008 578 1004 566 Q1001 553 1004 541 Z" fill="#34424b" stroke="#0f1114" stroke-width="2.4" stroke-linejoin="round"/>
<ellipse cx="1041" cy="560" rx="30" ry="35.5" fill="#6b7980" stroke="#0f1114" stroke-width="2.4" transform="rotate(-8 1041 560)"/>
<ellipse cx="1049" cy="561" rx="29.5" ry="34" fill="#4a5860" stroke="#0f1114" stroke-width="1.6" transform="rotate(-8 1049 561)"/>
<path d="M1021 541 Q1023 536 1027 533" fill="none" stroke="#2a3238" stroke-width="3.5" stroke-linecap="round"/>
<path d="M1030 585 Q1045 570 1068 590" fill="#3f4c54" opacity="0.7"/>
<path d="M1053.5 546 L1192.5 576.6 L1192.5 611.7 L1055 579 Q1035 563 1053.5 546 Z" fill="#a6a8a4" stroke="#0f1114" stroke-width="2.4" stroke-linejoin="round"/>
<path d="M1053.6 547.6 L1192.5 578.4 L1192.5 582.2 L1053.7 551.3 Z" fill="#b4b6b2"/>
<path d="M1053.7 551.3 L1192.5 582.2 L1192.5 591.3 L1054.1 559.9 Z" fill="#dedfdb"/>
<path d="M1054.1 559.9 L1192.5 591.3 L1192.5 594.2 L1054.2 562.5 Z" fill="#bfc0bc"/>
<path d="M1054.2 562.5 L1192.5 594.2 L1192.5 609.9 L1054.9 577.4 Z" fill="#9b9d99"/>
<path d="M1053.5 546 Q1036 563 1055 579" fill="none" stroke="#0f1114" stroke-width="2"/>
<path d="M667.6 435.0 L668.8 435.5 L670.3 436.2 L672.0 436.9 L673.8 437.8 L675.9 438.8 L678.1 440.0 L680.6 441.5 L683.4 443.2 L686.5 445.1 L689.9 447.3 L693.3 449.6 L696.8 452.0 L700.3 454.6 L703.6 457.2 L706.9 460.0 L710.2 462.9 L713.5 466.0 L716.7 469.3 L720.1 472.6 L723.4 476.2 L726.7 479.8 L730.1 483.7 L733.5 487.9 L737.0 492.3 L740.5 496.7 L743.8 501.1 L747.0 505.5 L750.0 509.7 L752.7 513.7 L755.2 517.4 L757.6 521.0 L759.8 524.6 L761.9 528.4 L764.1 532.5 L766.4 537.1 L769.0 542.5 L771.7 548.8 L774.6 555.6 L777.3 562.4 L779.8 568.7 L781.9 573.9 L783.5 577.8 L790.4 575.0 L789.0 571.2 L787.0 565.9 L784.6 559.6 L781.9 552.7 L779.2 545.7 L776.5 539.2 L774.0 533.5 L771.6 528.7 L769.4 524.4 L767.2 520.3 L764.9 516.5 L762.6 512.7 L760.1 508.8 L757.4 504.7 L754.4 500.3 L751.2 495.8 L747.8 491.2 L744.4 486.5 L740.9 482.0 L737.4 477.7 L733.9 473.6 L730.6 469.7 L727.2 465.9 L723.8 462.4 L720.4 458.9 L717.0 455.6 L713.6 452.4 L710.2 449.4 L706.6 446.5 L703.0 443.6 L699.3 441.0 L695.7 438.5 L692.2 436.2 L689.1 434.2 L686.2 432.3 L683.5 430.7 L681.0 429.3 L678.7 428.0 L676.6 427.0 L674.8 426.2 L673.4 425.6 L672.4 425.0 Z" fill="#fcc612" stroke="#c27c00" stroke-width="1.5" stroke-linejoin="round"/><path d="M668.6 433.0 L669.7 433.5 L671.2 434.2 L672.9 434.9 L674.8 435.8 L676.9 436.9 L679.2 438.2 L681.7 439.6 L684.5 441.4 L687.7 443.4 L691.0 445.5 L694.5 447.9 L698.1 450.3 L701.6 452.9 L704.9 455.6 L708.2 458.5 L711.5 461.5 L714.8 464.6 L718.2 467.9 L721.5 471.3 L724.8 474.9 L728.1 478.6 L731.5 482.5 L735.0 486.7 L738.5 491.1 L742.0 495.6 L745.3 500.1 L748.5 504.5 L751.5 508.7 L754.2 512.7 L756.7 516.4 L759.0 520.1 L761.2 523.8 L763.4 527.6 L765.6 531.8 L767.9 536.4 L770.5 541.8 L773.2 548.2 L776.0 555.0 L778.8 561.8 L781.2 568.1 L783.3 573.4 L784.9 577.2 L786.7 576.5 L785.2 572.7 L783.1 567.4 L780.6 561.1 L777.9 554.3 L775.2 547.4 L772.4 541.0 L769.9 535.4 L767.6 530.8 L765.4 526.6 L763.2 522.6 L760.9 518.9 L758.6 515.2 L756.1 511.4 L753.4 507.4 L750.4 503.1 L747.2 498.7 L743.9 494.1 L740.4 489.6 L736.9 485.2 L733.4 480.9 L730.0 477.0 L726.7 473.2 L723.3 469.6 L720.0 466.1 L716.7 462.8 L713.3 459.6 L710.0 456.5 L706.6 453.6 L703.2 450.8 L699.7 448.2 L696.1 445.6 L692.5 443.2 L689.2 441.0 L686.0 439.0 L683.2 437.3 L680.6 435.7 L678.2 434.4 L676.1 433.3 L674.1 432.4 L672.4 431.6 L670.9 430.9 L669.8 430.4 Z" fill="#ffe56a" opacity="0.9"/><path d="M670.8 428.3 L671.9 428.8 L673.4 429.4 L675.1 430.2 L677.1 431.2 L679.3 432.4 L681.8 433.7 L684.4 435.3 L687.2 437.1 L690.4 439.1 L693.8 441.4 L697.3 443.8 L701.0 446.4 L704.6 449.1 L708.0 451.9 L711.4 454.9 L714.8 458.0 L718.2 461.2 L721.5 464.6 L724.9 468.1 L728.2 471.8 L731.6 475.6 L735.0 479.6 L738.5 483.9 L742.0 488.4 L745.4 493.0 L748.8 497.5 L752.0 502.0 L755.0 506.3 L757.7 510.4 L760.2 514.2 L762.5 517.9 L764.8 521.7 L767.0 525.7 L769.2 530.0 L771.5 534.7 L774.0 540.3 L776.8 546.8 L779.5 553.6 L782.2 560.5 L784.6 566.8 L786.7 572.1 L788.2 575.9 L789.9 575.2 L788.4 571.4 L786.4 566.1 L784.0 559.8 L781.4 552.9 L778.6 546.0 L775.9 539.4 L773.4 533.8 L771.1 529.0 L768.8 524.7 L766.6 520.7 L764.4 516.8 L762.0 513.0 L759.5 509.2 L756.8 505.1 L753.8 500.7 L750.6 496.2 L747.3 491.6 L743.8 487.0 L740.3 482.5 L736.8 478.1 L733.4 474.0 L730.0 470.2 L726.6 466.4 L723.3 462.9 L719.9 459.4 L716.5 456.2 L713.1 453.0 L709.7 450.0 L706.2 447.1 L702.5 444.3 L698.8 441.6 L695.2 439.2 L691.8 436.9 L688.7 434.9 L685.8 433.0 L683.1 431.4 L680.6 430.0 L678.3 428.8 L676.2 427.8 L674.5 427.0 L673.1 426.3 L672.0 425.8 Z" fill="#f4ae00" opacity="0.8"/><path d="M794.8 608.0 L800.6 563.4 L785.4 570.1 L766.6 562.3 Z" fill="#fbc916" stroke="#7a4a00" stroke-width="1.8" stroke-linejoin="miter"/>
<path d="M668.2 433.2 L670.3 433.9 L673.2 434.9 L676.6 436.1 L680.4 437.4 L684.6 438.9 L688.9 440.4 L693.2 441.9 L697.8 443.5 L702.7 445.1 L707.7 446.7 L712.9 448.5 L718.1 450.3 L723.2 452.3 L728.2 454.4 L733.1 456.7 L738.1 459.2 L743.0 461.8 L748.0 464.5 L752.9 467.4 L757.9 470.4 L762.8 473.7 L767.8 477.1 L772.9 480.8 L778.0 484.7 L783.1 488.7 L788.1 492.8 L792.9 497.0 L797.5 501.1 L801.9 505.2 L806.2 509.5 L810.3 513.9 L814.3 518.3 L818.2 522.7 L821.9 527.0 L825.5 531.1 L829.0 534.9 L832.2 538.6 L835.2 542.2 L838.1 545.7 L841.0 549.2 L843.8 552.7 L846.6 556.4 L849.5 560.4 L852.6 564.8 L855.7 569.3 L858.7 573.7 L861.4 577.8 L863.7 581.2 L865.4 583.7 L871.6 579.6 L870.0 577.0 L867.8 573.6 L865.1 569.5 L862.2 565.0 L859.1 560.4 L856.0 555.8 L853.0 551.6 L850.2 547.8 L847.3 544.1 L844.4 540.5 L841.5 536.9 L838.5 533.3 L835.3 529.5 L831.9 525.5 L828.3 521.4 L824.6 517.1 L820.7 512.6 L816.7 508.0 L812.5 503.4 L808.2 498.9 L803.7 494.5 L799.0 490.2 L794.0 485.9 L789.0 481.6 L783.8 477.4 L778.6 473.3 L773.4 469.4 L768.2 465.7 L763.1 462.3 L758.0 459.1 L752.9 456.0 L747.8 453.1 L742.7 450.3 L737.5 447.7 L732.4 445.2 L727.1 442.8 L721.7 440.7 L716.4 438.7 L711.1 436.8 L706.0 435.1 L701.2 433.5 L696.8 431.9 L692.5 430.3 L688.2 428.7 L684.1 427.2 L680.2 425.9 L676.8 424.6 L674.0 423.6 L671.8 422.8 Z" fill="#fcc612" stroke="#c27c00" stroke-width="1.5" stroke-linejoin="round"/><path d="M668.9 431.1 L671.1 431.9 L673.9 432.9 L677.3 434.1 L681.2 435.4 L685.3 436.8 L689.6 438.4 L693.9 439.9 L698.5 441.5 L703.3 443.1 L708.4 444.7 L713.6 446.5 L718.8 448.4 L724.0 450.4 L729.0 452.6 L734.0 454.9 L739.0 457.4 L744.0 460.0 L749.0 462.8 L753.9 465.7 L758.9 468.8 L763.9 472.1 L768.9 475.6 L774.0 479.3 L779.2 483.2 L784.3 487.3 L789.3 491.4 L794.2 495.6 L798.8 499.8 L803.2 504.0 L807.4 508.3 L811.6 512.7 L815.6 517.2 L819.4 521.6 L823.2 525.8 L826.8 530.0 L830.2 533.8 L833.4 537.5 L836.5 541.1 L839.4 544.6 L842.3 548.2 L845.1 551.7 L847.9 555.4 L850.8 559.5 L853.9 563.9 L857.0 568.4 L860.0 572.9 L862.7 576.9 L864.9 580.4 L866.6 582.9 L868.2 581.8 L866.6 579.3 L864.3 575.9 L861.7 571.8 L858.7 567.3 L855.6 562.7 L852.5 558.3 L849.5 554.2 L846.7 550.5 L843.9 546.9 L841.0 543.3 L838.1 539.8 L835.1 536.2 L831.9 532.4 L828.4 528.5 L824.9 524.4 L821.1 520.1 L817.3 515.7 L813.2 511.2 L809.1 506.7 L804.8 502.3 L800.4 498.1 L795.7 493.9 L790.8 489.6 L785.8 485.4 L780.7 481.3 L775.5 477.4 L770.4 473.6 L765.3 470.0 L760.3 466.7 L755.3 463.5 L750.2 460.6 L745.2 457.8 L740.2 455.1 L735.2 452.6 L730.1 450.2 L725.0 447.9 L719.8 445.9 L714.5 444.0 L709.3 442.2 L704.2 440.5 L699.4 438.9 L694.9 437.3 L690.5 435.7 L686.2 434.2 L682.1 432.7 L678.3 431.4 L674.9 430.2 L672.0 429.2 L669.9 428.4 Z" fill="#ffe56a" opacity="0.9"/><path d="M670.6 426.2 L672.8 427.0 L675.7 428.0 L679.1 429.2 L682.9 430.6 L687.0 432.0 L691.3 433.6 L695.6 435.1 L700.1 436.7 L704.9 438.3 L710.0 440.1 L715.2 441.9 L720.6 443.8 L725.9 445.9 L731.0 448.2 L736.1 450.6 L741.2 453.2 L746.2 455.9 L751.3 458.7 L756.3 461.8 L761.4 464.9 L766.4 468.3 L771.6 471.9 L776.7 475.7 L781.9 479.8 L787.1 483.9 L792.1 488.1 L797.0 492.4 L801.7 496.7 L806.1 501.0 L810.5 505.4 L814.6 509.9 L818.6 514.4 L822.5 518.9 L826.2 523.2 L829.8 527.3 L833.2 531.3 L836.4 535.0 L839.5 538.6 L842.4 542.2 L845.3 545.8 L848.1 549.4 L850.9 553.2 L853.9 557.3 L857.0 561.8 L860.1 566.4 L863.0 570.9 L865.7 575.0 L867.9 578.4 L869.6 580.9 L871.1 579.9 L869.5 577.4 L867.3 573.9 L864.6 569.8 L861.7 565.3 L858.6 560.7 L855.5 556.2 L852.5 552.0 L849.7 548.2 L846.8 544.5 L844.0 540.9 L841.0 537.3 L838.0 533.7 L834.8 529.9 L831.4 526.0 L827.8 521.8 L824.1 517.5 L820.3 513.0 L816.2 508.5 L812.1 503.9 L807.7 499.4 L803.2 495.0 L798.5 490.7 L793.6 486.4 L788.5 482.1 L783.4 477.9 L778.1 473.9 L772.9 470.0 L767.8 466.3 L762.7 462.9 L757.6 459.7 L752.5 456.6 L747.4 453.7 L742.3 451.0 L737.2 448.4 L732.1 445.9 L726.8 443.5 L721.5 441.4 L716.1 439.4 L710.8 437.6 L705.8 435.9 L701.0 434.2 L696.5 432.6 L692.2 431.1 L687.9 429.5 L683.8 428.0 L680.0 426.6 L676.6 425.4 L673.7 424.4 L671.6 423.6 Z" fill="#f4ae00" opacity="0.8"/><path d="M886.2 610.3 L876.8 560.0 L864.9 575.9 L845.0 578.7 Z" fill="#fbc916" stroke="#7a4a00" stroke-width="1.8" stroke-linejoin="miter"/>
<path d="M668.5 431.3 L671.8 432.2 L676.1 433.4 L681.3 434.8 L687.0 436.4 L693.2 438.0 L699.5 439.5 L705.8 440.9 L712.1 442.1 L718.6 443.3 L725.4 444.4 L732.3 445.5 L739.2 446.6 L746.0 447.7 L752.8 448.9 L759.5 450.0 L766.2 451.2 L772.9 452.3 L779.6 453.5 L786.2 454.8 L792.8 456.3 L799.3 457.9 L805.9 459.8 L812.5 461.9 L819.1 464.1 L825.8 466.5 L832.5 469.0 L839.2 471.4 L845.9 473.9 L852.6 476.4 L859.3 478.8 L866.0 481.2 L872.6 483.7 L879.2 486.3 L885.9 489.2 L892.5 492.2 L899.4 495.7 L906.5 499.5 L913.7 503.6 L920.9 507.8 L927.9 511.9 L934.6 515.9 L941.0 519.5 L947.1 522.8 L953.2 526.1 L959.1 529.2 L964.5 532.2 L969.4 534.7 L973.5 536.9 L976.6 538.6 L980.2 531.9 L977.1 530.3 L973.0 528.1 L968.2 525.4 L962.7 522.5 L956.9 519.3 L950.9 515.9 L944.8 512.5 L938.7 509.0 L932.0 505.0 L925.0 500.8 L917.8 496.5 L910.6 492.2 L903.3 488.2 L896.3 484.6 L889.4 481.3 L882.6 478.3 L875.8 475.6 L869.1 473.0 L862.4 470.4 L855.7 468.0 L849.1 465.5 L842.4 462.9 L835.7 460.3 L829.0 457.8 L822.3 455.3 L815.5 452.9 L808.7 450.7 L801.9 448.7 L795.0 446.9 L788.2 445.3 L781.4 443.9 L774.7 442.6 L768.0 441.4 L761.3 440.2 L754.6 438.9 L747.8 437.7 L740.9 436.5 L734.0 435.3 L727.1 434.1 L720.5 433.0 L714.1 431.8 L708.0 430.5 L702.0 429.1 L695.9 427.6 L689.9 425.9 L684.2 424.3 L679.0 422.9 L674.7 421.6 L671.5 420.7 Z" fill="#fcc612" stroke="#c27c00" stroke-width="1.5" stroke-linejoin="round"/><path d="M669.1 429.2 L672.4 430.1 L676.7 431.3 L681.8 432.7 L687.6 434.3 L693.8 435.9 L700.0 437.4 L706.2 438.8 L712.5 440.0 L719.0 441.2 L725.7 442.3 L732.6 443.4 L739.5 444.5 L746.4 445.7 L753.2 446.9 L759.9 448.1 L766.6 449.2 L773.3 450.4 L779.9 451.6 L786.6 452.9 L793.2 454.4 L799.8 456.1 L806.5 458.0 L813.1 460.1 L819.8 462.4 L826.4 464.8 L833.1 467.2 L839.8 469.7 L846.5 472.2 L853.3 474.7 L859.9 477.1 L866.6 479.6 L873.2 482.1 L879.9 484.7 L886.6 487.6 L893.3 490.7 L900.2 494.2 L907.3 498.1 L914.5 502.2 L921.7 506.4 L928.7 510.5 L935.4 514.5 L941.7 518.1 L947.8 521.4 L953.9 524.7 L959.8 527.9 L965.3 530.8 L970.1 533.4 L974.2 535.6 L977.3 537.2 L978.2 535.5 L975.2 533.8 L971.1 531.7 L966.2 529.1 L960.7 526.1 L954.9 522.9 L948.8 519.6 L942.7 516.3 L936.5 512.7 L929.8 508.7 L922.8 504.6 L915.6 500.3 L908.4 496.2 L901.2 492.2 L894.3 488.7 L887.5 485.6 L880.7 482.7 L874.1 480.0 L867.4 477.4 L860.7 474.9 L854.1 472.5 L847.4 470.0 L840.7 467.5 L834.0 465.0 L827.3 462.5 L820.6 460.1 L813.9 457.8 L807.2 455.6 L800.5 453.7 L793.8 452.0 L787.1 450.4 L780.4 449.1 L773.7 447.9 L767.0 446.7 L760.3 445.5 L753.6 444.3 L746.9 443.1 L740.0 441.9 L733.0 440.8 L726.2 439.7 L719.5 438.5 L713.0 437.4 L706.8 436.1 L700.7 434.7 L694.5 433.2 L688.3 431.6 L682.6 430.0 L677.4 428.5 L673.1 427.3 L669.9 426.4 Z" fill="#ffe56a" opacity="0.9"/><path d="M670.5 424.1 L673.8 425.0 L678.1 426.3 L683.2 427.7 L688.9 429.3 L695.0 430.9 L701.2 432.5 L707.3 433.9 L713.4 435.1 L719.9 436.3 L726.6 437.5 L733.4 438.6 L740.3 439.7 L747.2 440.9 L754.0 442.2 L760.7 443.4 L767.4 444.6 L774.1 445.8 L780.8 447.0 L787.6 448.4 L794.3 449.9 L801.0 451.7 L807.8 453.7 L814.5 455.8 L821.2 458.2 L828.0 460.6 L834.7 463.1 L841.4 465.7 L848.1 468.2 L854.7 470.7 L861.4 473.2 L868.1 475.6 L874.7 478.2 L881.5 480.9 L888.2 483.9 L895.1 487.1 L902.0 490.6 L909.2 494.6 L916.5 498.8 L923.7 503.1 L930.7 507.2 L937.3 511.2 L943.6 514.8 L949.6 518.2 L955.7 521.5 L961.5 524.7 L967.0 527.6 L971.8 530.2 L975.9 532.4 L979.0 534.1 L979.9 532.4 L976.8 530.8 L972.7 528.6 L967.9 525.9 L962.4 523.0 L956.6 519.8 L950.6 516.4 L944.6 513.1 L938.4 509.5 L931.7 505.5 L924.7 501.3 L917.5 497.0 L910.3 492.8 L903.0 488.8 L896.0 485.1 L889.1 481.9 L882.3 478.9 L875.5 476.2 L868.8 473.6 L862.2 471.1 L855.5 468.6 L848.8 466.1 L842.2 463.5 L835.5 461.0 L828.8 458.4 L822.0 456.0 L815.3 453.6 L808.5 451.4 L801.7 449.4 L794.9 447.6 L788.1 446.0 L781.3 444.6 L774.5 443.3 L767.8 442.1 L761.1 440.9 L754.5 439.7 L747.7 438.4 L740.7 437.2 L733.8 436.1 L727.0 434.9 L720.3 433.7 L713.9 432.5 L707.8 431.3 L701.8 429.9 L695.7 428.3 L689.7 426.7 L684.0 425.1 L678.8 423.6 L674.5 422.4 L671.2 421.5 Z" fill="#f4ae00" opacity="0.8"/><path d="M1003.8 551.0 L979.5 513.5 L973.3 532.1 L955.5 543.5 Z" fill="#fbc916" stroke="#7a4a00" stroke-width="1.8" stroke-linejoin="miter"/>
<path d="M669.4 428.5 L674.7 429.0 L681.9 429.8 L690.4 430.6 L699.8 431.6 L709.7 432.7 L719.7 433.9 L729.3 435.1 L739.0 436.4 L749.3 437.8 L760.0 439.4 L770.7 441.0 L781.1 442.6 L790.9 444.1 L799.8 445.4 L807.8 446.6 L814.9 447.7 L821.6 448.7 L827.9 449.7 L834.1 450.6 L840.3 451.5 L846.9 452.3 L853.3 453.1 L859.2 453.7 L865.0 454.4 L871.1 455.0 L877.7 455.5 L885.2 456.1 L894.1 456.8 L904.6 457.5 L916.8 458.2 L929.9 458.9 L943.5 459.7 L956.9 460.4 L969.5 461.0 L980.8 461.5 L990.8 461.9 L1000.2 462.3 L1008.9 462.6 L1017.2 462.9 L1025.1 463.1 L1032.6 463.2 L1039.9 463.3 L1046.9 463.4 L1053.3 463.4 L1059.4 463.4 L1065.2 463.4 L1070.9 463.2 L1076.5 463.0 L1082.3 462.7 L1088.0 462.3 L1093.6 461.7 L1099.0 461.1 L1104.4 460.4 L1109.8 459.7 L1115.2 458.9 L1120.6 458.0 L1126.2 457.1 L1131.9 456.2 L1137.6 455.2 L1143.3 454.1 L1148.8 453.1 L1154.3 452.0 L1159.4 450.9 L1164.4 449.7 L1169.0 448.6 L1173.5 447.4 L1177.9 446.2 L1182.2 445.1 L1186.6 443.9 L1191.0 442.7 L1195.7 441.5 L1200.9 440.2 L1206.1 438.8 L1211.1 437.5 L1215.7 436.3 L1219.6 435.3 L1222.4 434.5 L1220.6 427.3 L1217.7 428.0 L1213.9 429.0 L1209.3 430.2 L1204.2 431.4 L1199.0 432.8 L1193.8 434.1 L1189.0 435.3 L1184.6 436.4 L1180.2 437.6 L1175.9 438.7 L1171.6 439.9 L1167.1 441.0 L1162.6 442.1 L1157.8 443.1 L1152.7 444.2 L1147.3 445.2 L1141.8 446.3 L1136.2 447.3 L1130.5 448.2 L1124.9 449.1 L1119.4 450.0 L1114.0 450.8 L1108.6 451.5 L1103.3 452.2 L1098.0 452.9 L1092.7 453.4 L1087.3 453.9 L1081.7 454.3 L1076.2 454.6 L1070.7 454.8 L1065.1 454.9 L1059.4 454.9 L1053.4 454.9 L1047.0 454.8 L1040.1 454.7 L1032.8 454.5 L1025.3 454.3 L1017.5 454.1 L1009.3 453.8 L1000.5 453.4 L991.2 453.0 L981.2 452.5 L970.0 451.9 L957.4 451.2 L944.0 450.4 L930.5 449.6 L917.3 448.8 L905.2 448.0 L894.7 447.2 L886.0 446.5 L878.5 445.9 L872.0 445.3 L866.0 444.7 L860.3 444.0 L854.4 443.3 L848.1 442.5 L841.7 441.6 L835.5 440.8 L829.4 439.8 L823.1 438.8 L816.5 437.8 L809.3 436.6 L801.4 435.4 L792.4 434.0 L782.6 432.4 L772.2 430.8 L761.5 429.1 L750.9 427.5 L740.5 425.9 L730.7 424.5 L721.0 423.3 L711.0 422.0 L701.0 420.9 L691.5 419.8 L683.0 418.9 L675.9 418.1 L670.6 417.5 Z" fill="#fcc612" stroke="#c27c00" stroke-width="1.5" stroke-linejoin="round"/><path d="M669.6 426.3 L675.0 426.9 L682.1 427.6 L690.6 428.5 L700.0 429.5 L710.0 430.6 L720.0 431.8 L729.6 433.0 L739.3 434.3 L749.6 435.8 L760.3 437.4 L771.0 439.0 L781.4 440.6 L791.2 442.1 L800.1 443.4 L808.1 444.6 L815.3 445.7 L821.9 446.8 L828.2 447.7 L834.4 448.6 L840.6 449.5 L847.1 450.3 L853.5 451.1 L859.4 451.8 L865.2 452.4 L871.2 453.0 L877.9 453.6 L885.4 454.2 L894.2 454.9 L904.7 455.6 L916.9 456.3 L930.0 457.1 L943.6 457.8 L957.0 458.5 L969.6 459.2 L980.9 459.7 L990.9 460.2 L1000.3 460.5 L1009.0 460.9 L1017.3 461.1 L1025.1 461.3 L1032.7 461.5 L1040.0 461.6 L1046.9 461.7 L1053.3 461.7 L1059.4 461.7 L1065.2 461.7 L1070.9 461.5 L1076.5 461.3 L1082.2 461.0 L1087.8 460.6 L1093.4 460.1 L1098.8 459.5 L1104.2 458.8 L1109.6 458.0 L1114.9 457.2 L1120.4 456.4 L1125.9 455.5 L1131.6 454.6 L1137.3 453.6 L1143.0 452.6 L1148.5 451.5 L1153.9 450.4 L1159.1 449.3 L1164.0 448.2 L1168.7 447.1 L1173.1 445.9 L1177.5 444.7 L1181.8 443.6 L1186.2 442.4 L1190.6 441.2 L1195.3 440.0 L1200.5 438.7 L1205.7 437.3 L1210.8 436.0 L1215.4 434.8 L1219.2 433.8 L1222.1 433.1 L1221.6 431.2 L1218.7 431.9 L1214.9 432.9 L1210.3 434.1 L1205.2 435.4 L1200.0 436.8 L1194.8 438.1 L1190.1 439.3 L1185.7 440.5 L1181.3 441.6 L1177.0 442.8 L1172.6 443.9 L1168.2 445.1 L1163.5 446.2 L1158.7 447.3 L1153.5 448.4 L1148.1 449.5 L1142.6 450.5 L1136.9 451.5 L1131.2 452.5 L1125.6 453.5 L1120.0 454.3 L1114.6 455.1 L1109.3 455.9 L1103.9 456.6 L1098.6 457.3 L1093.2 457.9 L1087.7 458.4 L1082.0 458.8 L1076.4 459.1 L1070.8 459.3 L1065.2 459.5 L1059.4 459.5 L1053.4 459.5 L1046.9 459.4 L1040.0 459.3 L1032.7 459.2 L1025.2 459.0 L1017.3 458.8 L1009.1 458.6 L1000.3 458.2 L991.0 457.8 L981.0 457.4 L969.7 456.8 L957.1 456.1 L943.7 455.4 L930.2 454.6 L917.0 453.9 L904.9 453.1 L894.4 452.4 L885.6 451.7 L878.1 451.1 L871.5 450.5 L865.5 449.9 L859.7 449.3 L853.8 448.6 L847.5 447.8 L841.0 447.0 L834.7 446.1 L828.6 445.2 L822.3 444.2 L815.7 443.1 L808.5 442.0 L800.5 440.8 L791.6 439.4 L781.8 437.9 L771.4 436.3 L760.7 434.7 L750.0 433.1 L739.7 431.6 L729.9 430.2 L720.3 429.0 L710.3 427.8 L700.3 426.7 L690.9 425.7 L682.4 424.8 L675.3 424.0 L670.0 423.4 Z" fill="#ffe56a" opacity="0.9"/><path d="M670.2 421.1 L675.5 421.7 L682.7 422.4 L691.2 423.3 L700.6 424.4 L710.6 425.5 L720.6 426.7 L730.2 428.0 L740.0 429.3 L750.4 430.8 L761.0 432.5 L771.7 434.1 L782.1 435.7 L791.9 437.3 L800.9 438.6 L808.8 439.9 L816.0 441.0 L822.6 442.0 L828.9 443.0 L835.0 444.0 L841.2 444.8 L847.7 445.7 L854.1 446.5 L859.9 447.2 L865.7 447.8 L871.7 448.4 L878.3 449.0 L885.7 449.7 L894.5 450.3 L905.0 451.1 L917.2 451.8 L930.3 452.6 L943.8 453.4 L957.2 454.2 L969.8 454.8 L981.1 455.4 L991.1 455.9 L1000.4 456.3 L1009.2 456.6 L1017.4 456.9 L1025.2 457.2 L1032.7 457.3 L1040.0 457.5 L1046.9 457.6 L1053.4 457.7 L1059.4 457.7 L1065.2 457.6 L1070.7 457.5 L1076.3 457.3 L1081.9 457.0 L1087.5 456.6 L1093.0 456.1 L1098.4 455.5 L1103.7 454.9 L1109.0 454.2 L1114.4 453.4 L1119.8 452.6 L1125.3 451.7 L1131.0 450.8 L1136.6 449.8 L1142.3 448.8 L1147.8 447.8 L1153.2 446.7 L1158.3 445.6 L1163.1 444.6 L1167.8 443.5 L1172.2 442.3 L1176.6 441.2 L1180.9 440.0 L1185.2 438.8 L1189.7 437.7 L1194.4 436.5 L1199.6 435.2 L1204.8 433.8 L1209.9 432.5 L1214.5 431.4 L1218.3 430.4 L1221.2 429.6 L1220.7 427.8 L1217.9 428.6 L1214.0 429.5 L1209.4 430.7 L1204.3 432.0 L1199.1 433.3 L1194.0 434.6 L1189.2 435.8 L1184.7 437.0 L1180.4 438.1 L1176.1 439.3 L1171.7 440.4 L1167.3 441.6 L1162.7 442.6 L1157.9 443.7 L1152.8 444.8 L1147.4 445.8 L1141.9 446.9 L1136.3 447.9 L1130.6 448.8 L1125.0 449.7 L1119.5 450.6 L1114.1 451.4 L1108.7 452.1 L1103.4 452.8 L1098.1 453.5 L1092.8 454.1 L1087.3 454.5 L1081.8 454.9 L1076.2 455.2 L1070.7 455.4 L1065.1 455.5 L1059.4 455.5 L1053.4 455.5 L1047.0 455.4 L1040.1 455.3 L1032.8 455.2 L1025.3 455.0 L1017.5 454.7 L1009.2 454.4 L1000.5 454.1 L991.2 453.7 L981.2 453.2 L969.9 452.6 L957.3 451.9 L944.0 451.1 L930.4 450.3 L917.3 449.5 L905.2 448.7 L894.7 447.9 L885.9 447.3 L878.5 446.6 L871.9 446.0 L866.0 445.4 L860.2 444.7 L854.4 444.0 L848.0 443.2 L841.6 442.4 L835.4 441.5 L829.3 440.6 L823.0 439.6 L816.4 438.5 L809.2 437.4 L801.3 436.1 L792.3 434.7 L782.5 433.2 L772.1 431.6 L761.4 429.9 L750.7 428.2 L740.4 426.7 L730.6 425.3 L720.9 424.1 L710.9 422.8 L700.9 421.7 L691.5 420.6 L683.0 419.7 L675.8 418.9 L670.5 418.4 Z" fill="#f4ae00" opacity="0.8"/><path d="M1246.5 420.8 L1204.0 421.5 L1216.5 432.9 L1217.6 449.0 Z" fill="#fbc916" stroke="#7a4a00" stroke-width="1.8" stroke-linejoin="miter"/>
<path d="M669.7 425.5 L675.0 425.7 L682.2 426.1 L690.7 426.6 L700.1 427.0 L710.1 427.5 L720.2 427.8 L729.9 428.1 L739.6 428.2 L750.0 428.3 L760.7 428.4 L771.4 428.4 L781.9 428.3 L791.8 428.1 L800.8 427.8 L808.9 427.4 L816.2 426.7 L822.9 426.0 L829.3 425.3 L835.4 424.4 L841.6 423.6 L848.1 422.8 L854.7 422.0 L861.3 421.2 L867.9 420.4 L874.5 419.6 L881.1 418.8 L887.8 417.9 L894.6 416.9 L901.5 416.0 L908.5 415.0 L915.5 414.0 L922.6 413.0 L929.7 411.9 L936.8 410.7 L943.7 409.4 L950.6 408.0 L957.4 406.6 L964.1 405.0 L970.7 403.4 L977.4 401.7 L984.2 400.0 L991.1 398.2 L998.1 396.3 L1005.4 394.4 L1012.8 392.4 L1020.1 390.3 L1027.4 388.2 L1034.5 386.1 L1041.3 383.9 L1047.7 381.7 L1053.7 379.5 L1059.4 377.3 L1065.1 375.0 L1070.9 372.7 L1076.9 370.3 L1083.4 367.7 L1090.9 364.8 L1099.4 361.4 L1108.2 358.0 L1117.0 354.5 L1125.0 351.3 L1131.7 348.7 L1136.6 346.7 L1133.9 339.8 L1129.0 341.7 L1122.2 344.3 L1114.2 347.4 L1105.4 350.8 L1096.5 354.2 L1088.1 357.4 L1080.6 360.3 L1074.0 362.8 L1067.9 365.3 L1062.1 367.5 L1056.5 369.8 L1050.8 371.9 L1045.0 374.0 L1038.7 376.1 L1032.0 378.2 L1025.0 380.2 L1017.8 382.2 L1010.5 384.2 L1003.2 386.2 L996.0 388.0 L988.9 389.8 L982.1 391.6 L975.3 393.2 L968.7 394.8 L962.1 396.4 L955.4 397.9 L948.8 399.3 L942.1 400.6 L935.2 401.8 L928.3 402.9 L921.3 403.9 L914.2 404.9 L907.2 405.9 L900.3 406.8 L893.4 407.7 L886.6 408.5 L880.0 409.4 L873.3 410.2 L866.8 411.0 L860.2 411.7 L853.6 412.5 L846.9 413.2 L840.4 413.9 L834.2 414.7 L828.1 415.5 L821.8 416.2 L815.3 416.9 L808.2 417.4 L800.4 417.8 L791.5 418.0 L781.8 418.1 L771.4 418.2 L760.8 418.1 L750.2 417.9 L739.8 417.7 L730.1 417.5 L720.5 417.2 L710.6 416.8 L700.7 416.3 L691.3 415.7 L682.8 415.2 L675.6 414.8 L670.3 414.5 Z" fill="#fcc612" stroke="#c27c00" stroke-width="1.5" stroke-linejoin="round"/><path d="M669.8 423.3 L675.2 423.6 L682.3 423.9 L690.8 424.4 L700.2 424.9 L710.2 425.3 L720.2 425.7 L729.9 426.0 L739.7 426.1 L750.1 426.3 L760.7 426.3 L771.4 426.4 L781.9 426.3 L791.7 426.1 L800.7 425.8 L808.7 425.4 L816.0 424.8 L822.7 424.1 L829.0 423.3 L835.2 422.5 L841.4 421.7 L847.8 420.9 L854.5 420.1 L861.1 419.3 L867.7 418.5 L874.3 417.7 L880.9 416.9 L887.6 416.0 L894.4 415.1 L901.2 414.1 L908.2 413.2 L915.3 412.2 L922.3 411.2 L929.4 410.1 L936.4 408.9 L943.4 407.6 L950.2 406.3 L957.0 404.8 L963.7 403.3 L970.3 401.7 L977.0 400.0 L983.8 398.3 L990.6 396.5 L997.7 394.7 L1005.0 392.7 L1012.3 390.8 L1019.7 388.7 L1026.9 386.6 L1034.0 384.5 L1040.8 382.4 L1047.1 380.2 L1053.1 378.0 L1058.8 375.8 L1064.5 373.5 L1070.3 371.2 L1076.4 368.8 L1082.9 366.2 L1090.3 363.3 L1098.8 360.0 L1107.7 356.5 L1116.4 353.1 L1124.4 349.9 L1131.2 347.3 L1136.1 345.4 L1135.4 343.5 L1130.5 345.5 L1123.7 348.1 L1115.7 351.2 L1106.9 354.6 L1098.1 358.1 L1089.6 361.4 L1082.1 364.3 L1075.6 366.8 L1069.5 369.3 L1063.8 371.6 L1058.1 373.8 L1052.4 376.0 L1046.4 378.2 L1040.1 380.3 L1033.3 382.4 L1026.3 384.6 L1019.1 386.6 L1011.7 388.6 L1004.4 390.6 L997.1 392.5 L990.1 394.3 L983.2 396.1 L976.5 397.8 L969.8 399.5 L963.1 401.0 L956.5 402.6 L949.8 404.0 L943.0 405.4 L936.0 406.6 L929.0 407.8 L922.0 408.8 L914.9 409.8 L907.9 410.8 L900.9 411.7 L894.0 412.7 L887.3 413.6 L880.6 414.4 L874.0 415.3 L867.4 416.1 L860.8 416.9 L854.2 417.6 L847.5 418.4 L841.1 419.2 L834.9 420.0 L828.7 420.8 L822.4 421.5 L815.8 422.2 L808.6 422.8 L800.6 423.2 L791.7 423.5 L781.9 423.6 L771.4 423.7 L760.8 423.7 L750.1 423.6 L739.7 423.4 L730.0 423.2 L720.3 422.9 L710.3 422.6 L700.4 422.1 L690.9 421.6 L682.4 421.1 L675.3 420.7 L670.0 420.4 Z" fill="#ffe56a" opacity="0.9"/><path d="M670.1 418.1 L675.4 418.4 L682.6 418.8 L691.1 419.3 L700.5 419.8 L710.4 420.3 L720.4 420.7 L730.0 421.0 L739.8 421.2 L750.1 421.3 L760.8 421.4 L771.4 421.5 L781.8 421.5 L791.6 421.3 L800.5 421.0 L808.4 420.6 L815.6 420.1 L822.2 419.4 L828.5 418.7 L834.6 417.9 L840.8 417.1 L847.3 416.3 L854.0 415.6 L860.5 414.8 L867.1 414.0 L873.7 413.3 L880.3 412.4 L887.0 411.6 L893.8 410.7 L900.7 409.8 L907.6 408.8 L914.7 407.9 L921.7 406.9 L928.7 405.8 L935.7 404.7 L942.6 403.5 L949.4 402.1 L956.1 400.7 L962.7 399.2 L969.3 397.6 L976.0 396.0 L982.8 394.3 L989.6 392.5 L996.7 390.7 L1003.9 388.8 L1011.3 386.9 L1018.6 384.9 L1025.8 382.8 L1032.8 380.7 L1039.6 378.6 L1045.8 376.5 L1051.8 374.4 L1057.5 372.2 L1063.1 370.0 L1068.9 367.7 L1075.0 365.3 L1081.5 362.7 L1089.0 359.8 L1097.5 356.5 L1106.3 353.1 L1115.1 349.7 L1123.1 346.6 L1129.9 343.9 L1134.8 342.0 L1134.1 340.3 L1129.2 342.2 L1122.4 344.8 L1114.4 347.9 L1105.6 351.3 L1096.7 354.7 L1088.3 358.0 L1080.8 360.9 L1074.2 363.4 L1068.1 365.8 L1062.4 368.1 L1056.7 370.3 L1051.0 372.5 L1045.2 374.6 L1038.9 376.7 L1032.2 378.8 L1025.2 380.8 L1018.0 382.9 L1010.7 384.8 L1003.4 386.8 L996.1 388.6 L989.1 390.4 L982.2 392.2 L975.5 393.9 L968.8 395.5 L962.2 397.0 L955.6 398.5 L948.9 399.9 L942.2 401.2 L935.3 402.5 L928.4 403.6 L921.4 404.6 L914.3 405.6 L907.3 406.5 L900.3 407.5 L893.5 408.4 L886.7 409.2 L880.0 410.1 L873.4 410.9 L866.8 411.7 L860.3 412.4 L853.7 413.2 L847.0 413.9 L840.5 414.7 L834.3 415.5 L828.2 416.2 L821.9 417.0 L815.4 417.6 L808.3 418.1 L800.4 418.5 L791.6 418.8 L781.8 418.9 L771.4 418.9 L760.8 418.9 L750.1 418.7 L739.8 418.5 L730.1 418.3 L720.5 418.0 L710.5 417.6 L700.6 417.1 L691.2 416.5 L682.7 416.0 L675.6 415.6 L670.2 415.3 Z" fill="#f4ae00" opacity="0.8"/><path d="M1158.6 331.6 L1116.5 335.0 L1130.6 345.6 L1134.0 361.5 Z" fill="#fbc916" stroke="#7a4a00" stroke-width="1.8" stroke-linejoin="miter"/>
<path d="M670.3 421.5 L675.8 421.2 L683.4 420.8 L692.5 420.3 L702.3 419.8 L712.3 419.3 L721.8 418.9 L730.1 418.6 L737.4 418.5 L744.3 418.6 L750.9 418.7 L757.4 418.8 L763.9 418.9 L770.5 418.8 L777.3 418.4 L784.1 418.0 L790.9 417.4 L797.7 416.6 L804.5 415.8 L811.3 414.8 L818.1 413.7 L825.0 412.4 L831.9 410.8 L839.0 409.0 L846.1 407.1 L853.1 405.1 L859.9 403.0 L866.3 401.0 L872.4 399.2 L877.9 397.4 L883.1 395.7 L888.1 394.1 L892.8 392.4 L897.4 390.7 L901.9 389.0 L906.5 387.2 L911.1 385.3 L915.6 383.3 L920.0 381.3 L924.4 379.3 L928.7 377.2 L932.9 375.0 L937.0 372.9 L941.1 370.7 L945.0 368.5 L948.9 366.2 L952.7 363.9 L956.5 361.5 L960.3 359.1 L964.2 356.5 L968.2 353.9 L972.2 351.2 L976.2 348.3 L980.3 345.4 L984.3 342.5 L988.4 339.4 L992.5 336.2 L996.6 333.0 L1000.6 329.8 L1004.6 326.4 L1008.7 323.0 L1012.8 319.5 L1017.1 315.8 L1021.6 312.0 L1026.5 307.7 L1032.1 302.8 L1037.9 297.7 L1043.6 292.7 L1048.7 288.1 L1053.1 284.2 L1056.3 281.4 L1051.4 275.8 L1048.1 278.6 L1043.7 282.4 L1038.5 287.0 L1032.8 291.9 L1027.0 297.0 L1021.4 301.8 L1016.4 306.0 L1012.0 309.8 L1007.7 313.4 L1003.5 316.9 L999.5 320.2 L995.5 323.5 L991.5 326.6 L987.5 329.8 L983.4 332.8 L979.4 335.8 L975.4 338.7 L971.4 341.5 L967.4 344.2 L963.5 346.9 L959.6 349.5 L955.7 351.9 L952.0 354.3 L948.2 356.6 L944.5 358.8 L940.8 360.9 L936.9 363.0 L933.0 365.1 L928.9 367.2 L924.8 369.3 L920.6 371.3 L916.3 373.2 L912.0 375.1 L907.6 377.0 L903.1 378.8 L898.6 380.6 L894.2 382.2 L889.7 383.8 L885.1 385.4 L880.3 387.0 L875.2 388.6 L869.6 390.2 L863.6 392.1 L857.2 394.0 L850.5 396.0 L843.6 397.9 L836.6 399.7 L829.7 401.4 L823.0 402.8 L816.4 404.0 L809.8 405.1 L803.2 406.0 L796.6 406.8 L790.0 407.4 L783.3 407.9 L776.7 408.4 L770.3 408.6 L764.0 408.6 L757.6 408.5 L751.2 408.4 L744.5 408.2 L737.4 408.1 L729.9 408.2 L721.4 408.4 L711.8 408.7 L701.8 409.1 L691.9 409.5 L682.9 409.9 L675.3 410.3 L669.7 410.5 Z" fill="#fcc612" stroke="#c27c00" stroke-width="1.5" stroke-linejoin="round"/><path d="M670.2 419.3 L675.7 419.0 L683.3 418.6 L692.4 418.2 L702.2 417.7 L712.2 417.2 L721.7 416.8 L730.1 416.5 L737.4 416.4 L744.3 416.5 L751.0 416.6 L757.5 416.8 L763.9 416.8 L770.5 416.7 L777.2 416.4 L783.9 415.9 L790.7 415.4 L797.5 414.7 L804.2 413.8 L811.0 412.9 L817.8 411.7 L824.6 410.5 L831.5 408.9 L838.5 407.2 L845.6 405.3 L852.6 403.2 L859.3 401.2 L865.8 399.2 L871.8 397.4 L877.4 395.6 L882.6 394.0 L887.5 392.3 L892.2 390.7 L896.7 389.0 L901.3 387.3 L905.8 385.5 L910.4 383.6 L914.9 381.7 L919.3 379.7 L923.6 377.7 L927.9 375.6 L932.1 373.5 L936.2 371.3 L940.3 369.1 L944.2 367.0 L948.0 364.7 L951.8 362.4 L955.6 360.1 L959.4 357.7 L963.3 355.1 L967.3 352.5 L971.2 349.8 L975.3 347.0 L979.3 344.1 L983.3 341.1 L987.4 338.1 L991.5 334.9 L995.6 331.8 L999.6 328.5 L1003.6 325.2 L1007.7 321.8 L1011.8 318.3 L1016.1 314.6 L1020.5 310.8 L1025.5 306.5 L1031.1 301.6 L1036.9 296.6 L1042.5 291.5 L1047.7 286.9 L1052.1 283.1 L1055.3 280.3 L1054.0 278.8 L1050.8 281.6 L1046.4 285.5 L1041.2 290.1 L1035.5 295.0 L1029.7 300.1 L1024.2 305.0 L1019.2 309.2 L1014.7 313.0 L1010.5 316.7 L1006.3 320.2 L1002.3 323.6 L998.3 326.9 L994.2 330.1 L990.2 333.3 L986.1 336.4 L982.1 339.4 L978.0 342.3 L974.0 345.2 L970.0 348.0 L966.0 350.7 L962.1 353.3 L958.2 355.8 L954.4 358.2 L950.6 360.5 L946.9 362.8 L943.1 365.0 L939.2 367.2 L935.2 369.3 L931.0 371.4 L926.9 373.5 L922.6 375.6 L918.3 377.6 L913.9 379.6 L909.5 381.5 L904.9 383.3 L900.4 385.1 L895.9 386.8 L891.4 388.5 L886.7 390.1 L881.8 391.7 L876.7 393.3 L871.1 395.1 L865.1 396.9 L858.6 398.9 L851.9 400.9 L844.9 402.9 L837.9 404.8 L830.9 406.5 L824.1 408.0 L817.4 409.2 L810.6 410.3 L803.9 411.3 L797.2 412.1 L790.5 412.8 L783.7 413.3 L777.0 413.8 L770.4 414.1 L764.0 414.2 L757.5 414.1 L751.0 413.9 L744.4 413.8 L737.4 413.7 L730.0 413.8 L721.6 414.1 L712.1 414.5 L702.1 414.9 L692.2 415.4 L683.2 415.8 L675.6 416.2 L670.0 416.4 Z" fill="#ffe56a" opacity="0.9"/><path d="M669.9 414.1 L675.4 413.8 L683.1 413.5 L692.1 413.0 L702.0 412.6 L712.0 412.2 L721.5 411.8 L730.0 411.6 L737.4 411.5 L744.4 411.6 L751.1 411.7 L757.6 411.9 L764.0 412.0 L770.4 411.9 L776.9 411.6 L783.6 411.2 L790.3 410.6 L797.0 410.0 L803.6 409.2 L810.3 408.2 L817.0 407.2 L823.7 405.9 L830.4 404.5 L837.4 402.8 L844.4 400.9 L851.3 398.9 L858.1 396.9 L864.5 395.0 L870.5 393.1 L876.1 391.4 L881.2 389.8 L886.1 388.2 L890.7 386.6 L895.2 385.0 L899.7 383.3 L904.2 381.5 L908.7 379.7 L913.2 377.8 L917.5 375.8 L921.8 373.9 L926.0 371.8 L930.2 369.8 L934.3 367.6 L938.3 365.5 L942.1 363.4 L945.9 361.2 L949.7 359.0 L953.4 356.7 L957.2 354.3 L961.1 351.8 L965.0 349.2 L969.0 346.5 L973.0 343.7 L977.0 340.9 L981.0 338.0 L985.1 335.0 L989.1 331.9 L993.2 328.7 L997.2 325.5 L1001.2 322.2 L1005.2 318.9 L1009.4 315.4 L1013.6 311.7 L1018.1 308.0 L1023.1 303.7 L1028.6 298.9 L1034.5 293.8 L1040.1 288.8 L1045.4 284.2 L1049.8 280.4 L1053.0 277.6 L1051.7 276.2 L1048.5 279.0 L1044.1 282.8 L1038.9 287.4 L1033.2 292.4 L1027.4 297.4 L1021.8 302.2 L1016.8 306.5 L1012.4 310.2 L1008.1 313.9 L1003.9 317.3 L999.9 320.7 L995.9 323.9 L991.9 327.1 L987.9 330.2 L983.8 333.3 L979.8 336.3 L975.8 339.2 L971.8 342.0 L967.8 344.7 L963.8 347.4 L959.9 350.0 L956.1 352.5 L952.3 354.8 L948.6 357.1 L944.8 359.3 L941.1 361.5 L937.2 363.6 L933.3 365.7 L929.2 367.8 L925.1 369.8 L920.9 371.9 L916.6 373.8 L912.3 375.7 L907.9 377.6 L903.4 379.4 L898.9 381.2 L894.5 382.8 L890.0 384.5 L885.3 386.0 L880.5 387.6 L875.4 389.2 L869.8 390.9 L863.8 392.7 L857.4 394.7 L850.7 396.6 L843.8 398.6 L836.8 400.4 L829.9 402.1 L823.2 403.6 L816.6 404.8 L809.9 405.8 L803.3 406.7 L796.7 407.5 L790.0 408.1 L783.4 408.7 L776.8 409.1 L770.3 409.4 L764.0 409.4 L757.6 409.3 L751.1 409.1 L744.4 409.0 L737.4 408.9 L729.9 408.9 L721.4 409.2 L711.9 409.5 L701.8 409.9 L692.0 410.3 L682.9 410.7 L675.3 411.1 L669.8 411.3 Z" fill="#f4ae00" opacity="0.8"/><path d="M1071.5 259.5 L1034.5 277.0 L1050.3 282.4 L1058.0 296.5 Z" fill="#fbc916" stroke="#7a4a00" stroke-width="1.8" stroke-linejoin="miter"/>
<path d="M672.7 417.5 L675.8 417.0 L680.1 416.5 L685.2 415.8 L690.8 415.0 L696.6 414.2 L702.4 413.5 L707.6 412.7 L712.6 412.1 L717.7 411.5 L722.8 410.8 L727.9 410.2 L733.0 409.5 L738.0 408.7 L742.9 407.8 L747.7 406.8 L752.3 405.7 L756.9 404.6 L761.5 403.3 L765.9 402.0 L770.2 400.5 L774.3 398.9 L778.1 397.1 L781.8 395.2 L785.2 393.2 L788.5 391.1 L791.7 388.9 L794.7 386.7 L797.6 384.4 L800.5 382.1 L803.1 379.8 L805.4 377.5 L807.8 375.1 L810.2 372.6 L812.8 369.9 L815.8 367.0 L819.5 363.5 L824.0 359.3 L828.7 354.8 L833.5 350.4 L837.8 346.3 L841.5 342.8 L844.2 340.3 L839.1 334.8 L836.4 337.2 L832.7 340.6 L828.2 344.7 L823.4 349.0 L818.5 353.4 L814.0 357.5 L810.2 361.0 L807.0 364.0 L804.2 366.7 L801.8 369.2 L799.5 371.4 L797.3 373.5 L794.9 375.5 L792.4 377.6 L789.5 379.7 L786.6 381.7 L783.7 383.7 L780.6 385.6 L777.5 387.3 L774.2 389.0 L770.7 390.5 L767.0 391.9 L763.1 393.1 L759.0 394.3 L754.7 395.4 L750.2 396.4 L745.7 397.3 L741.1 398.2 L736.4 399.0 L731.6 399.7 L726.7 400.3 L721.7 400.8 L716.6 401.4 L711.4 401.9 L706.4 402.5 L701.0 403.1 L695.3 403.8 L689.5 404.4 L683.9 405.1 L678.8 405.7 L674.5 406.2 L671.3 406.5 Z" fill="#fcc612" stroke="#c27c00" stroke-width="1.5" stroke-linejoin="round"/><path d="M672.4 415.3 L675.6 414.9 L679.9 414.3 L685.0 413.6 L690.6 412.9 L696.4 412.1 L702.1 411.4 L707.4 410.7 L712.4 410.0 L717.5 409.4 L722.6 408.8 L727.7 408.2 L732.7 407.5 L737.7 406.8 L742.5 405.9 L747.3 404.9 L751.9 403.8 L756.5 402.7 L761.0 401.5 L765.3 400.2 L769.5 398.8 L773.6 397.2 L777.3 395.5 L780.9 393.6 L784.3 391.7 L787.6 389.6 L790.6 387.5 L793.6 385.3 L796.6 383.1 L799.4 380.8 L801.9 378.5 L804.3 376.3 L806.6 373.9 L809.0 371.4 L811.6 368.7 L814.7 365.8 L818.4 362.3 L822.9 358.1 L827.6 353.7 L832.4 349.2 L836.8 345.1 L840.5 341.7 L843.2 339.2 L841.9 337.8 L839.2 340.2 L835.5 343.7 L831.0 347.7 L826.3 352.2 L821.5 356.6 L817.0 360.7 L813.2 364.2 L810.1 367.2 L807.4 369.9 L805.0 372.4 L802.7 374.7 L800.4 376.9 L797.9 379.1 L795.2 381.3 L792.3 383.5 L789.3 385.6 L786.3 387.7 L783.1 389.7 L779.8 391.6 L776.3 393.4 L772.6 395.0 L768.7 396.5 L764.6 397.9 L760.3 399.2 L755.9 400.4 L751.4 401.4 L746.7 402.4 L742.1 403.4 L737.3 404.2 L732.4 405.0 L727.4 405.6 L722.3 406.2 L717.2 406.8 L712.1 407.4 L707.1 408.0 L701.7 408.7 L696.0 409.4 L690.2 410.2 L684.6 410.9 L679.5 411.5 L675.2 412.0 L672.1 412.4 Z" fill="#ffe56a" opacity="0.9"/><path d="M671.8 410.1 L674.9 409.7 L679.2 409.2 L684.3 408.6 L689.9 407.9 L695.7 407.2 L701.5 406.5 L706.8 405.8 L711.8 405.2 L716.9 404.6 L722.0 404.1 L727.1 403.5 L732.1 402.9 L737.0 402.2 L741.7 401.3 L746.3 400.4 L750.9 399.4 L755.4 398.4 L759.8 397.2 L764.0 396.0 L768.1 394.7 L771.9 393.2 L775.5 391.6 L778.9 389.9 L782.1 388.0 L785.2 386.1 L788.2 384.1 L791.2 381.9 L794.1 379.8 L796.7 377.7 L799.1 375.6 L801.4 373.4 L803.7 371.1 L806.2 368.6 L808.9 365.9 L812.0 363.0 L815.8 359.4 L820.3 355.3 L825.1 350.9 L829.9 346.5 L834.3 342.5 L838.1 339.0 L840.8 336.6 L839.5 335.2 L836.8 337.6 L833.0 341.0 L828.6 345.1 L823.8 349.5 L818.9 353.9 L814.4 358.0 L810.6 361.5 L807.5 364.4 L804.7 367.1 L802.2 369.6 L799.9 371.9 L797.7 374.0 L795.4 376.0 L792.7 378.1 L789.9 380.2 L787.0 382.3 L784.0 384.2 L781.0 386.1 L777.8 387.9 L774.5 389.6 L771.0 391.1 L767.3 392.5 L763.3 393.8 L759.2 395.0 L754.8 396.1 L750.4 397.1 L745.8 398.1 L741.2 398.9 L736.6 399.7 L731.7 400.4 L726.8 401.0 L721.7 401.6 L716.6 402.1 L711.5 402.7 L706.5 403.2 L701.1 403.9 L695.4 404.5 L689.6 405.2 L684.0 405.9 L678.9 406.5 L674.6 407.0 L671.4 407.4 Z" fill="#f4ae00" opacity="0.8"/><path d="M854.5 312.4 L822.5 341.0 L839.1 342.6 L849.8 355.6 Z" fill="#fbc916" stroke="#7a4a00" stroke-width="1.8" stroke-linejoin="miter"/>
<path d="M676 405.5 Q664 408 667 422 Q668 434 678 438.5" fill="none" stroke="#e89c00" stroke-width="2"/>
<line x1="285.5" y1="126.5" x2="285.5" y2="194.0" stroke="#0c0d0f" stroke-width="2.8"/><circle cx="285.5" cy="194.0" r="4.2" fill="#0c0d0f"/>
<line x1="651.6" y1="251.6" x2="651.6" y2="320.0" stroke="#0c0d0f" stroke-width="2.8"/><circle cx="651.6" cy="320.0" r="4.2" fill="#0c0d0f"/>
<line x1="1136.9" y1="182.8" x2="1136.9" y2="252.5" stroke="#0c0d0f" stroke-width="2.8"/><circle cx="1136.9" cy="252.5" r="4.2" fill="#0c0d0f"/>
<line x1="454.6" y1="486.3" x2="579.3" y2="424.4" stroke="#0c0d0f" stroke-width="2.8"/><circle cx="579.3" cy="424.4" r="4.2" fill="#0c0d0f"/>
<line x1="879.7" y1="755.4" x2="879.7" y2="625.3" stroke="#0c0d0f" stroke-width="2.8"/><circle cx="879.7" cy="625.3" r="4.2" fill="#0c0d0f"/>
<g font-family="'Liberation Sans', 'DejaVu Sans', sans-serif">
<text x="158.43" y="117.0" font-size="47.0" fill="#3f4249" stroke="#3f4249" stroke-width="0.45" textLength="239.57" lengthAdjust="spacingAndGlyphs">Lead Block</text>
<text x="1037.86" y="111.6" font-size="46.5" fill="#17191c" stroke="#17191c" stroke-width="0.45" textLength="185.21" lengthAdjust="spacingAndGlyphs">Movable</text>
<text x="935.49" y="170.3" font-size="46.5" fill="#17191c" stroke="#17191c" stroke-width="0.45" textLength="401.55" lengthAdjust="spacingAndGlyphs">Zinc Sulfide Screen</text>
<text x="542.96" y="238.0" font-size="47.0" fill="#17191c" stroke="#17191c" stroke-width="0.45" textLength="230.09" lengthAdjust="spacingAndGlyphs">Small Hole</text>
<text x="325.45" y="526.3" font-size="47.0" fill="#17191c" stroke="#17191c" stroke-width="0.45" textLength="210.08" lengthAdjust="spacingAndGlyphs"><tspan font-family="'DejaVu Serif', 'Liberation Serif', serif" font-style="italic">α</tspan>-Particle</text>
<text x="373.30" y="579.0" font-size="47.0" fill="#17191c" stroke="#17191c" stroke-width="0.45" textLength="115.82" lengthAdjust="spacingAndGlyphs">Beam</text>
<text x="526.99" y="689.7" font-size="47.0" fill="#17191c" stroke="#17191c" stroke-width="0.45" textLength="276.04" lengthAdjust="spacingAndGlyphs">Thin Gold Foil</text>
<text x="765.95" y="804.6" font-size="47.0" fill="#17191c" stroke="#17191c" stroke-width="0.45" textLength="206.13" lengthAdjust="spacingAndGlyphs">Scattered</text>
<text x="746.97" y="863.0" font-size="47.0" fill="#17191c" stroke="#17191c" stroke-width="0.45" textLength="239.56" lengthAdjust="spacingAndGlyphs"><tspan font-family="'DejaVu Serif', 'Liberation Serif', serif" font-style="italic">α</tspan>-Particles</text>
</g>
</svg>
</body>
</html>
